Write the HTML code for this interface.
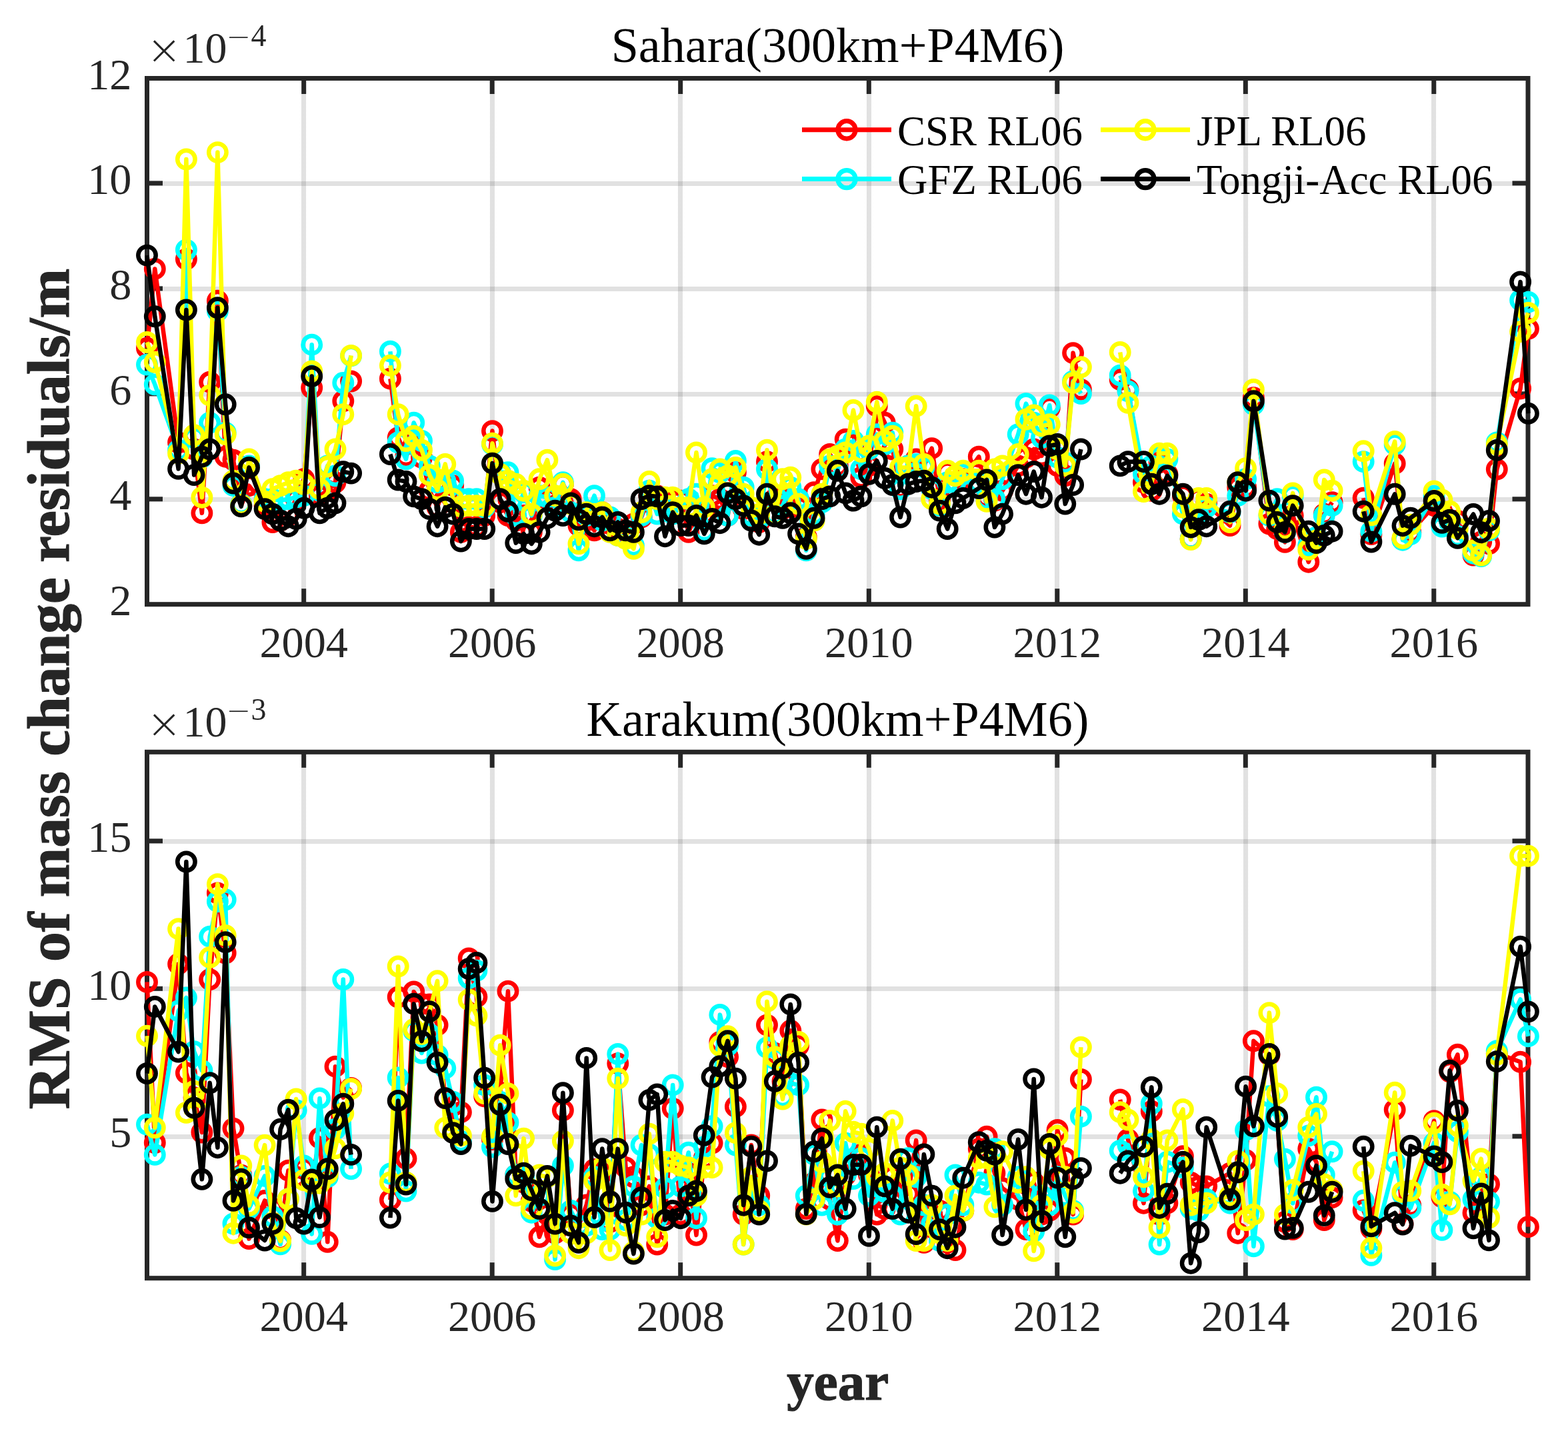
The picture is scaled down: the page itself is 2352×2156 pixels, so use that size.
<!DOCTYPE html>
<html lang="en">
<head>
<meta charset="utf-8">
<title>RMS of mass change residuals</title>
<style>
html,body{margin:0;padding:0;background:#fff;}
body{width:2352px;height:2156px;overflow:hidden;}
svg{display:block;}
text{font-family:"Liberation Serif","DejaVu Serif",serif;fill:#000;}
.tk text{font-size:66.3px;fill:#262626;}
.tk .sup{font-size:46px;}
.tk .sm{font-size:44px;font-family:"DejaVu Sans Light","DejaVu Sans","Liberation Serif",serif;font-weight:200;}
.tk .ex{font-size:66px;}
.tk .tm{font-size:63px;font-family:"DejaVu Sans Light","DejaVu Sans","Liberation Serif",serif;font-weight:200;}
.ti{font-size:74.1px;}
.lg{font-size:62.9px;}
.yl{font-size:89.5px;font-weight:bold;fill:#262626;stroke:#262626;stroke-width:1.2px;}
.xl{font-size:81px;font-weight:bold;fill:#262626;stroke:#262626;stroke-width:1.2px;}
</style>
</head>
<body>
<svg width="2352" height="2156" viewBox="0 0 2352 2156" role="img" aria-label="RMS of mass change residuals for Sahara and Karakum">
<defs>
<pattern id="gd" width="2" height="2" patternUnits="userSpaceOnUse"><rect width="2" height="2" fill="#f4f4f4"/><rect x="0" y="0" width="1" height="1" fill="#cecece"/><rect x="1" y="1" width="1" height="1" fill="#cecece"/></pattern>
<pattern id="gx" width="2" height="2" patternUnits="userSpaceOnUse"><rect width="2" height="2" fill="#e0e0e0"/><rect x="0" y="0" width="1" height="1" fill="#b0b0b0"/><rect x="1" y="1" width="1" height="1" fill="#b0b0b0"/></pattern>
</defs>
<rect x="0" y="0" width="2352" height="2156" fill="#ffffff"/>
<g fill="url(#gd)" shape-rendering="crispEdges">
<rect x="452" y="118" width="7" height="789"/>
<rect x="735" y="118" width="7" height="789"/>
<rect x="1017" y="118" width="7" height="789"/>
<rect x="1300" y="118" width="7" height="789"/>
<rect x="1582" y="118" width="7" height="789"/>
<rect x="1865" y="118" width="7" height="789"/>
<rect x="2147" y="118" width="7" height="789"/>
<rect x="220" y="746" width="2072" height="7"/>
<rect x="220" y="588" width="2072" height="7"/>
<rect x="220" y="430" width="2072" height="7"/>
<rect x="220" y="272" width="2072" height="7"/>
</g>
<g fill="url(#gx)" shape-rendering="crispEdges">
<rect x="452" y="746" width="7" height="7"/>
<rect x="452" y="588" width="7" height="7"/>
<rect x="452" y="430" width="7" height="7"/>
<rect x="452" y="272" width="7" height="7"/>
<rect x="735" y="746" width="7" height="7"/>
<rect x="735" y="588" width="7" height="7"/>
<rect x="735" y="430" width="7" height="7"/>
<rect x="735" y="272" width="7" height="7"/>
<rect x="1017" y="746" width="7" height="7"/>
<rect x="1017" y="588" width="7" height="7"/>
<rect x="1017" y="430" width="7" height="7"/>
<rect x="1017" y="272" width="7" height="7"/>
<rect x="1300" y="746" width="7" height="7"/>
<rect x="1300" y="588" width="7" height="7"/>
<rect x="1300" y="430" width="7" height="7"/>
<rect x="1300" y="272" width="7" height="7"/>
<rect x="1582" y="746" width="7" height="7"/>
<rect x="1582" y="588" width="7" height="7"/>
<rect x="1582" y="430" width="7" height="7"/>
<rect x="1582" y="272" width="7" height="7"/>
<rect x="1865" y="746" width="7" height="7"/>
<rect x="1865" y="588" width="7" height="7"/>
<rect x="1865" y="430" width="7" height="7"/>
<rect x="1865" y="272" width="7" height="7"/>
<rect x="2147" y="746" width="7" height="7"/>
<rect x="2147" y="588" width="7" height="7"/>
<rect x="2147" y="430" width="7" height="7"/>
<rect x="2147" y="272" width="7" height="7"/>
</g>
<g stroke="#262626" stroke-width="7" fill="none" stroke-linecap="butt">
<rect x="220.5" y="117.5" width="2071.5" height="789.2"/>
<line x1="455.7" y1="117.5" x2="455.7" y2="141"/>
<line x1="455.7" y1="906.7" x2="455.7" y2="883.2"/>
<line x1="738.2" y1="117.5" x2="738.2" y2="141"/>
<line x1="738.2" y1="906.7" x2="738.2" y2="883.2"/>
<line x1="1020.7" y1="117.5" x2="1020.7" y2="141"/>
<line x1="1020.7" y1="906.7" x2="1020.7" y2="883.2"/>
<line x1="1303.3" y1="117.5" x2="1303.3" y2="141"/>
<line x1="1303.3" y1="906.7" x2="1303.3" y2="883.2"/>
<line x1="1585.8" y1="117.5" x2="1585.8" y2="141"/>
<line x1="1585.8" y1="906.7" x2="1585.8" y2="883.2"/>
<line x1="1868.3" y1="117.5" x2="1868.3" y2="141"/>
<line x1="1868.3" y1="906.7" x2="1868.3" y2="883.2"/>
<line x1="2150.8" y1="117.5" x2="2150.8" y2="141"/>
<line x1="2150.8" y1="906.7" x2="2150.8" y2="883.2"/>
<line x1="220.5" y1="748.8" x2="244" y2="748.8"/>
<line x1="2292" y1="748.8" x2="2268.5" y2="748.8"/>
<line x1="220.5" y1="590.8" x2="244" y2="590.8"/>
<line x1="2292" y1="590.8" x2="2268.5" y2="590.8"/>
<line x1="220.5" y1="432.9" x2="244" y2="432.9"/>
<line x1="2292" y1="432.9" x2="2268.5" y2="432.9"/>
<line x1="220.5" y1="274.9" x2="244" y2="274.9"/>
<line x1="2292" y1="274.9" x2="2268.5" y2="274.9"/>
</g>
<g class="tk">
<text x="197.5" y="923.2" text-anchor="end">2</text>
<text x="197.5" y="765.3" text-anchor="end">4</text>
<text x="197.5" y="607.3" text-anchor="end">6</text>
<text x="197.5" y="449.4" text-anchor="end">8</text>
<text x="197.5" y="291.4" text-anchor="end">10</text>
<text x="197.5" y="133.5" text-anchor="end">12</text>
<text x="455.7" y="985.7" text-anchor="middle">2004</text>
<text x="738.2" y="985.7" text-anchor="middle">2006</text>
<text x="1020.7" y="985.7" text-anchor="middle">2008</text>
<text x="1303.3" y="985.7" text-anchor="middle">2010</text>
<text x="1585.8" y="985.7" text-anchor="middle">2012</text>
<text x="1868.3" y="985.7" text-anchor="middle">2014</text>
<text x="2150.8" y="985.7" text-anchor="middle">2016</text>
<text class="tm" x="246.2" y="96.3" text-anchor="middle">×</text>
<text class="ex" x="274.5" y="93.8">10</text>
<text class="sm" x="358" y="70.3" text-anchor="middle">−</text>
<text class="sup" x="376.5" y="69.3">4</text>
</g>
<text class="ti" x="1256.5" y="93.4" text-anchor="middle">Sahara(300km+P4M6)</text>
<g stroke="#ff0000" stroke-width="6.5" fill="none" stroke-linejoin="round">
<polyline points="220.5,522.2 232.3,403.4 267.6,664 279.4,388.8 291.1,674 302.9,769.8 314.7,573.2 326.4,451.3 338.2,685.2 350,690.2 361.8,758.6 373.5,728.7 397.1,758.6 408.9,783.5 420.6,781 432.4,773.5 444.2,748.7 455.9,718.8 467.7,581.9 479.5,743.7 491.3,736.2 503,723.8 514.8,601.8 526.6,572"/>
<polyline points="585.4,568.2 597.2,656.6 609,683.9 620.7,666.5 632.5,686.4 644.3,736.2 656.1,761.1 667.8,723.8 679.6,728.7 691.4,798.4 703.2,791 714.9,791 726.7,773.5 738.5,646.6 750.2,753.6 762,773.5 773.8,781 785.6,773.5 797.3,798.4 809.1,731.2 820.9,748.7 832.6,758.6 844.4,726.3 856.2,748.7 868,788.5 879.7,781 891.5,795.9 903.3,768.6 915,786 926.8,793.5 938.6,803.4 950.4,786 962.1,776 973.9,743.7 985.7,743.7 997.5,753.6 1009.2,751.1 1021,751.1 1032.8,798.4 1044.5,771.1 1056.3,771.1 1068.1,743.7 1079.9,748.7 1091.6,773.5 1103.4,708.8 1115.2,763.6 1126.9,773.5 1138.7,783.5 1150.5,692.7 1162.3,748.7 1174,763.6 1185.8,748.7 1197.6,761.1 1209.3,805.9 1221.1,738.7 1232.9,703.9 1244.7,681.5 1256.4,698.9 1268.2,659.1 1280,666.5 1291.8,716.3 1303.5,698.9 1315.3,609.3 1327.1,634.2 1338.8,674 1350.6,731.2 1362.4,698.9 1374.2,688.9 1385.9,698.9 1397.7,672.7 1409.5,748.7 1421.2,708.8 1433,723.8 1444.8,718.8 1468.3,685.2 1480.1,746.2 1491.9,751.1 1503.6,736.2 1527.2,698.9 1539,686.4 1550.7,674 1562.5,683.9 1574.3,611.8 1586.1,698.9 1597.8,713.8 1609.6,529.6 1621.4,584.4"/>
<polyline points="1680.2,569.5 1692,584.4 1715.5,723.8 1727.3,736.2 1739.1,693.9 1750.9,711.3 1774.4,743.7 1786.2,808.4 1797.9,748.7 1809.7,756.1 1845,788.5 1856.8,731.2 1868.6,731.2 1880.4,596.8 1903.9,786 1915.7,793.5 1927.4,813.4 1939.2,773.5 1962.8,843.2 1974.5,810.9 1986.3,771.1 1998.1,753.6"/>
<polyline points="2045.2,747.1 2056.9,801.6 2092.2,695.5 2104,808.7 2115.8,798.7 2151.1,758.5 2162.9,767.2 2174.7,781.5 2186.4,781.5 2210,833.1 2221.7,813 2233.5,815.9 2245.3,704.1 2280.6,583 2292.4,493.3"/>
<circle cx="220.5" cy="522.2" r="13.2"/>
<circle cx="232.3" cy="403.4" r="13.2"/>
<circle cx="267.6" cy="664" r="13.2"/>
<circle cx="279.4" cy="388.8" r="13.2"/>
<circle cx="291.1" cy="674" r="13.2"/>
<circle cx="302.9" cy="769.8" r="13.2"/>
<circle cx="314.7" cy="573.2" r="13.2"/>
<circle cx="326.4" cy="451.3" r="13.2"/>
<circle cx="338.2" cy="685.2" r="13.2"/>
<circle cx="350" cy="690.2" r="13.2"/>
<circle cx="361.8" cy="758.6" r="13.2"/>
<circle cx="373.5" cy="728.7" r="13.2"/>
<circle cx="397.1" cy="758.6" r="13.2"/>
<circle cx="408.9" cy="783.5" r="13.2"/>
<circle cx="420.6" cy="781" r="13.2"/>
<circle cx="432.4" cy="773.5" r="13.2"/>
<circle cx="444.2" cy="748.7" r="13.2"/>
<circle cx="455.9" cy="718.8" r="13.2"/>
<circle cx="467.7" cy="581.9" r="13.2"/>
<circle cx="479.5" cy="743.7" r="13.2"/>
<circle cx="491.3" cy="736.2" r="13.2"/>
<circle cx="503" cy="723.8" r="13.2"/>
<circle cx="514.8" cy="601.8" r="13.2"/>
<circle cx="526.6" cy="572" r="13.2"/>
<circle cx="585.4" cy="568.2" r="13.2"/>
<circle cx="597.2" cy="656.6" r="13.2"/>
<circle cx="609" cy="683.9" r="13.2"/>
<circle cx="620.7" cy="666.5" r="13.2"/>
<circle cx="632.5" cy="686.4" r="13.2"/>
<circle cx="644.3" cy="736.2" r="13.2"/>
<circle cx="656.1" cy="761.1" r="13.2"/>
<circle cx="667.8" cy="723.8" r="13.2"/>
<circle cx="679.6" cy="728.7" r="13.2"/>
<circle cx="691.4" cy="798.4" r="13.2"/>
<circle cx="703.2" cy="791" r="13.2"/>
<circle cx="714.9" cy="791" r="13.2"/>
<circle cx="726.7" cy="773.5" r="13.2"/>
<circle cx="738.5" cy="646.6" r="13.2"/>
<circle cx="750.2" cy="753.6" r="13.2"/>
<circle cx="762" cy="773.5" r="13.2"/>
<circle cx="773.8" cy="781" r="13.2"/>
<circle cx="785.6" cy="773.5" r="13.2"/>
<circle cx="797.3" cy="798.4" r="13.2"/>
<circle cx="809.1" cy="731.2" r="13.2"/>
<circle cx="820.9" cy="748.7" r="13.2"/>
<circle cx="832.6" cy="758.6" r="13.2"/>
<circle cx="844.4" cy="726.3" r="13.2"/>
<circle cx="856.2" cy="748.7" r="13.2"/>
<circle cx="868" cy="788.5" r="13.2"/>
<circle cx="879.7" cy="781" r="13.2"/>
<circle cx="891.5" cy="795.9" r="13.2"/>
<circle cx="903.3" cy="768.6" r="13.2"/>
<circle cx="915" cy="786" r="13.2"/>
<circle cx="926.8" cy="793.5" r="13.2"/>
<circle cx="938.6" cy="803.4" r="13.2"/>
<circle cx="950.4" cy="786" r="13.2"/>
<circle cx="962.1" cy="776" r="13.2"/>
<circle cx="973.9" cy="743.7" r="13.2"/>
<circle cx="985.7" cy="743.7" r="13.2"/>
<circle cx="997.5" cy="753.6" r="13.2"/>
<circle cx="1009.2" cy="751.1" r="13.2"/>
<circle cx="1021" cy="751.1" r="13.2"/>
<circle cx="1032.8" cy="798.4" r="13.2"/>
<circle cx="1044.5" cy="771.1" r="13.2"/>
<circle cx="1056.3" cy="771.1" r="13.2"/>
<circle cx="1068.1" cy="743.7" r="13.2"/>
<circle cx="1079.9" cy="748.7" r="13.2"/>
<circle cx="1091.6" cy="773.5" r="13.2"/>
<circle cx="1103.4" cy="708.8" r="13.2"/>
<circle cx="1115.2" cy="763.6" r="13.2"/>
<circle cx="1126.9" cy="773.5" r="13.2"/>
<circle cx="1138.7" cy="783.5" r="13.2"/>
<circle cx="1150.5" cy="692.7" r="13.2"/>
<circle cx="1162.3" cy="748.7" r="13.2"/>
<circle cx="1174" cy="763.6" r="13.2"/>
<circle cx="1185.8" cy="748.7" r="13.2"/>
<circle cx="1197.6" cy="761.1" r="13.2"/>
<circle cx="1209.3" cy="805.9" r="13.2"/>
<circle cx="1221.1" cy="738.7" r="13.2"/>
<circle cx="1232.9" cy="703.9" r="13.2"/>
<circle cx="1244.7" cy="681.5" r="13.2"/>
<circle cx="1256.4" cy="698.9" r="13.2"/>
<circle cx="1268.2" cy="659.1" r="13.2"/>
<circle cx="1280" cy="666.5" r="13.2"/>
<circle cx="1291.8" cy="716.3" r="13.2"/>
<circle cx="1303.5" cy="698.9" r="13.2"/>
<circle cx="1315.3" cy="609.3" r="13.2"/>
<circle cx="1327.1" cy="634.2" r="13.2"/>
<circle cx="1338.8" cy="674" r="13.2"/>
<circle cx="1350.6" cy="731.2" r="13.2"/>
<circle cx="1362.4" cy="698.9" r="13.2"/>
<circle cx="1374.2" cy="688.9" r="13.2"/>
<circle cx="1385.9" cy="698.9" r="13.2"/>
<circle cx="1397.7" cy="672.7" r="13.2"/>
<circle cx="1409.5" cy="748.7" r="13.2"/>
<circle cx="1421.2" cy="708.8" r="13.2"/>
<circle cx="1433" cy="723.8" r="13.2"/>
<circle cx="1444.8" cy="718.8" r="13.2"/>
<circle cx="1468.3" cy="685.2" r="13.2"/>
<circle cx="1480.1" cy="746.2" r="13.2"/>
<circle cx="1491.9" cy="751.1" r="13.2"/>
<circle cx="1503.6" cy="736.2" r="13.2"/>
<circle cx="1527.2" cy="698.9" r="13.2"/>
<circle cx="1539" cy="686.4" r="13.2"/>
<circle cx="1550.7" cy="674" r="13.2"/>
<circle cx="1562.5" cy="683.9" r="13.2"/>
<circle cx="1574.3" cy="611.8" r="13.2"/>
<circle cx="1586.1" cy="698.9" r="13.2"/>
<circle cx="1597.8" cy="713.8" r="13.2"/>
<circle cx="1609.6" cy="529.6" r="13.2"/>
<circle cx="1621.4" cy="584.4" r="13.2"/>
<circle cx="1680.2" cy="569.5" r="13.2"/>
<circle cx="1692" cy="584.4" r="13.2"/>
<circle cx="1715.5" cy="723.8" r="13.2"/>
<circle cx="1727.3" cy="736.2" r="13.2"/>
<circle cx="1739.1" cy="693.9" r="13.2"/>
<circle cx="1750.9" cy="711.3" r="13.2"/>
<circle cx="1774.4" cy="743.7" r="13.2"/>
<circle cx="1786.2" cy="808.4" r="13.2"/>
<circle cx="1797.9" cy="748.7" r="13.2"/>
<circle cx="1809.7" cy="756.1" r="13.2"/>
<circle cx="1845" cy="788.5" r="13.2"/>
<circle cx="1856.8" cy="731.2" r="13.2"/>
<circle cx="1868.6" cy="731.2" r="13.2"/>
<circle cx="1880.4" cy="596.8" r="13.2"/>
<circle cx="1903.9" cy="786" r="13.2"/>
<circle cx="1915.7" cy="793.5" r="13.2"/>
<circle cx="1927.4" cy="813.4" r="13.2"/>
<circle cx="1939.2" cy="773.5" r="13.2"/>
<circle cx="1962.8" cy="843.2" r="13.2"/>
<circle cx="1974.5" cy="810.9" r="13.2"/>
<circle cx="1986.3" cy="771.1" r="13.2"/>
<circle cx="1998.1" cy="753.6" r="13.2"/>
<circle cx="2045.2" cy="747.1" r="13.2"/>
<circle cx="2056.9" cy="801.6" r="13.2"/>
<circle cx="2092.2" cy="695.5" r="13.2"/>
<circle cx="2104" cy="808.7" r="13.2"/>
<circle cx="2115.8" cy="798.7" r="13.2"/>
<circle cx="2151.1" cy="758.5" r="13.2"/>
<circle cx="2162.9" cy="767.2" r="13.2"/>
<circle cx="2174.7" cy="781.5" r="13.2"/>
<circle cx="2186.4" cy="781.5" r="13.2"/>
<circle cx="2210" cy="833.1" r="13.2"/>
<circle cx="2221.7" cy="813" r="13.2"/>
<circle cx="2233.5" cy="815.9" r="13.2"/>
<circle cx="2245.3" cy="704.1" r="13.2"/>
<circle cx="2280.6" cy="583" r="13.2"/>
<circle cx="2292.4" cy="493.3" r="13.2"/>
</g>
<g stroke="#00ffff" stroke-width="6.5" fill="none" stroke-linejoin="round">
<polyline points="220.5,547.1 232.3,576.9 267.6,675.2 279.4,375 291.1,656.6 302.9,686.4 314.7,634.2 326.4,466.7 338.2,649.1 350,728.7 361.8,756.1 373.5,698.9 397.1,748.7 408.9,748.7 420.6,751.1 432.4,748.7 444.2,746.2 455.9,743.7 467.7,517.2 479.5,736.2 491.3,698.9 503,713.8 514.8,574.4 526.6,533.9"/>
<polyline points="585.4,527.2 597.2,664 609,688.9 620.7,634.2 632.5,661.5 644.3,698.9 656.1,723.8 667.8,721.3 679.6,721.3 691.4,748.7 703.2,748.7 714.9,748.7 726.7,761.1 738.5,666.5 750.2,708.8 762,708.8 773.8,773.5 785.6,738.7 797.3,773.5 809.1,743.7 820.9,746.2 832.6,761.1 844.4,723.8 856.2,768.6 868,825.8 879.7,773.5 891.5,743.7 903.3,781 915,776 926.8,803.4 938.6,805.9 950.4,818.3 962.1,773.5 973.9,736.2 985.7,771.1 997.5,761.1 1009.2,771.1 1021,761.1 1032.8,748.7 1044.5,741.2 1056.3,795.9 1068.1,702.6 1079.9,708.8 1091.6,773.5 1103.4,691.4 1115.2,731.2 1126.9,773.5 1138.7,778.5 1150.5,703.9 1162.3,771.1 1174,758.6 1185.8,731.2 1197.6,748.7 1209.3,825.8 1221.1,771.1 1232.9,753.6 1244.7,698.9 1256.4,703.9 1268.2,674 1280,661.5 1291.8,703.9 1303.5,674 1315.3,651.6 1327.1,666.5 1338.8,649.1 1350.6,733.7 1362.4,698.9 1374.2,696.4 1385.9,701.4 1397.7,733.7 1409.5,758.6 1421.2,723.8 1433,723.8 1444.8,711.3 1468.3,723.8 1480.1,748.7 1491.9,748.7 1503.6,718.8 1527.2,651.6 1539,605.6 1550.7,634.2 1562.5,656.6 1574.3,608 1586.1,686.4 1597.8,693.9 1609.6,572 1621.4,590.6"/>
<polyline points="1680.2,563.2 1692,586.9 1715.5,711.3 1727.3,698.9 1739.1,686.4 1750.9,688.9 1774.4,771.1 1786.2,808.4 1797.9,773.5 1809.7,761.1 1845,768.6 1856.8,743.7 1868.6,718.8 1880.4,606.8 1903.9,773.5 1915.7,748.7 1927.4,798.4 1939.2,743.7 1962.8,818.3 1974.5,805.9 1986.3,773.5 1998.1,758.6"/>
<polyline points="2045.2,692.6 2056.9,797.3 2092.2,666.8 2104,810.2 2115.8,801.6 2151.1,744.2 2162.9,790.1 2174.7,781.5 2186.4,804.4 2210,830.2 2221.7,834.5 2233.5,795.8 2245.3,663.9 2280.6,450.3 2292.4,453.1"/>
<circle cx="220.5" cy="547.1" r="13.2"/>
<circle cx="232.3" cy="576.9" r="13.2"/>
<circle cx="267.6" cy="675.2" r="13.2"/>
<circle cx="279.4" cy="375" r="13.2"/>
<circle cx="291.1" cy="656.6" r="13.2"/>
<circle cx="302.9" cy="686.4" r="13.2"/>
<circle cx="314.7" cy="634.2" r="13.2"/>
<circle cx="326.4" cy="466.7" r="13.2"/>
<circle cx="338.2" cy="649.1" r="13.2"/>
<circle cx="350" cy="728.7" r="13.2"/>
<circle cx="361.8" cy="756.1" r="13.2"/>
<circle cx="373.5" cy="698.9" r="13.2"/>
<circle cx="397.1" cy="748.7" r="13.2"/>
<circle cx="408.9" cy="748.7" r="13.2"/>
<circle cx="420.6" cy="751.1" r="13.2"/>
<circle cx="432.4" cy="748.7" r="13.2"/>
<circle cx="444.2" cy="746.2" r="13.2"/>
<circle cx="455.9" cy="743.7" r="13.2"/>
<circle cx="467.7" cy="517.2" r="13.2"/>
<circle cx="479.5" cy="736.2" r="13.2"/>
<circle cx="491.3" cy="698.9" r="13.2"/>
<circle cx="503" cy="713.8" r="13.2"/>
<circle cx="514.8" cy="574.4" r="13.2"/>
<circle cx="526.6" cy="533.9" r="13.2"/>
<circle cx="585.4" cy="527.2" r="13.2"/>
<circle cx="597.2" cy="664" r="13.2"/>
<circle cx="609" cy="688.9" r="13.2"/>
<circle cx="620.7" cy="634.2" r="13.2"/>
<circle cx="632.5" cy="661.5" r="13.2"/>
<circle cx="644.3" cy="698.9" r="13.2"/>
<circle cx="656.1" cy="723.8" r="13.2"/>
<circle cx="667.8" cy="721.3" r="13.2"/>
<circle cx="679.6" cy="721.3" r="13.2"/>
<circle cx="691.4" cy="748.7" r="13.2"/>
<circle cx="703.2" cy="748.7" r="13.2"/>
<circle cx="714.9" cy="748.7" r="13.2"/>
<circle cx="726.7" cy="761.1" r="13.2"/>
<circle cx="738.5" cy="666.5" r="13.2"/>
<circle cx="750.2" cy="708.8" r="13.2"/>
<circle cx="762" cy="708.8" r="13.2"/>
<circle cx="773.8" cy="773.5" r="13.2"/>
<circle cx="785.6" cy="738.7" r="13.2"/>
<circle cx="797.3" cy="773.5" r="13.2"/>
<circle cx="809.1" cy="743.7" r="13.2"/>
<circle cx="820.9" cy="746.2" r="13.2"/>
<circle cx="832.6" cy="761.1" r="13.2"/>
<circle cx="844.4" cy="723.8" r="13.2"/>
<circle cx="856.2" cy="768.6" r="13.2"/>
<circle cx="868" cy="825.8" r="13.2"/>
<circle cx="879.7" cy="773.5" r="13.2"/>
<circle cx="891.5" cy="743.7" r="13.2"/>
<circle cx="903.3" cy="781" r="13.2"/>
<circle cx="915" cy="776" r="13.2"/>
<circle cx="926.8" cy="803.4" r="13.2"/>
<circle cx="938.6" cy="805.9" r="13.2"/>
<circle cx="950.4" cy="818.3" r="13.2"/>
<circle cx="962.1" cy="773.5" r="13.2"/>
<circle cx="973.9" cy="736.2" r="13.2"/>
<circle cx="985.7" cy="771.1" r="13.2"/>
<circle cx="997.5" cy="761.1" r="13.2"/>
<circle cx="1009.2" cy="771.1" r="13.2"/>
<circle cx="1021" cy="761.1" r="13.2"/>
<circle cx="1032.8" cy="748.7" r="13.2"/>
<circle cx="1044.5" cy="741.2" r="13.2"/>
<circle cx="1056.3" cy="795.9" r="13.2"/>
<circle cx="1068.1" cy="702.6" r="13.2"/>
<circle cx="1079.9" cy="708.8" r="13.2"/>
<circle cx="1091.6" cy="773.5" r="13.2"/>
<circle cx="1103.4" cy="691.4" r="13.2"/>
<circle cx="1115.2" cy="731.2" r="13.2"/>
<circle cx="1126.9" cy="773.5" r="13.2"/>
<circle cx="1138.7" cy="778.5" r="13.2"/>
<circle cx="1150.5" cy="703.9" r="13.2"/>
<circle cx="1162.3" cy="771.1" r="13.2"/>
<circle cx="1174" cy="758.6" r="13.2"/>
<circle cx="1185.8" cy="731.2" r="13.2"/>
<circle cx="1197.6" cy="748.7" r="13.2"/>
<circle cx="1209.3" cy="825.8" r="13.2"/>
<circle cx="1221.1" cy="771.1" r="13.2"/>
<circle cx="1232.9" cy="753.6" r="13.2"/>
<circle cx="1244.7" cy="698.9" r="13.2"/>
<circle cx="1256.4" cy="703.9" r="13.2"/>
<circle cx="1268.2" cy="674" r="13.2"/>
<circle cx="1280" cy="661.5" r="13.2"/>
<circle cx="1291.8" cy="703.9" r="13.2"/>
<circle cx="1303.5" cy="674" r="13.2"/>
<circle cx="1315.3" cy="651.6" r="13.2"/>
<circle cx="1327.1" cy="666.5" r="13.2"/>
<circle cx="1338.8" cy="649.1" r="13.2"/>
<circle cx="1350.6" cy="733.7" r="13.2"/>
<circle cx="1362.4" cy="698.9" r="13.2"/>
<circle cx="1374.2" cy="696.4" r="13.2"/>
<circle cx="1385.9" cy="701.4" r="13.2"/>
<circle cx="1397.7" cy="733.7" r="13.2"/>
<circle cx="1409.5" cy="758.6" r="13.2"/>
<circle cx="1421.2" cy="723.8" r="13.2"/>
<circle cx="1433" cy="723.8" r="13.2"/>
<circle cx="1444.8" cy="711.3" r="13.2"/>
<circle cx="1468.3" cy="723.8" r="13.2"/>
<circle cx="1480.1" cy="748.7" r="13.2"/>
<circle cx="1491.9" cy="748.7" r="13.2"/>
<circle cx="1503.6" cy="718.8" r="13.2"/>
<circle cx="1527.2" cy="651.6" r="13.2"/>
<circle cx="1539" cy="605.6" r="13.2"/>
<circle cx="1550.7" cy="634.2" r="13.2"/>
<circle cx="1562.5" cy="656.6" r="13.2"/>
<circle cx="1574.3" cy="608" r="13.2"/>
<circle cx="1586.1" cy="686.4" r="13.2"/>
<circle cx="1597.8" cy="693.9" r="13.2"/>
<circle cx="1609.6" cy="572" r="13.2"/>
<circle cx="1621.4" cy="590.6" r="13.2"/>
<circle cx="1680.2" cy="563.2" r="13.2"/>
<circle cx="1692" cy="586.9" r="13.2"/>
<circle cx="1715.5" cy="711.3" r="13.2"/>
<circle cx="1727.3" cy="698.9" r="13.2"/>
<circle cx="1739.1" cy="686.4" r="13.2"/>
<circle cx="1750.9" cy="688.9" r="13.2"/>
<circle cx="1774.4" cy="771.1" r="13.2"/>
<circle cx="1786.2" cy="808.4" r="13.2"/>
<circle cx="1797.9" cy="773.5" r="13.2"/>
<circle cx="1809.7" cy="761.1" r="13.2"/>
<circle cx="1845" cy="768.6" r="13.2"/>
<circle cx="1856.8" cy="743.7" r="13.2"/>
<circle cx="1868.6" cy="718.8" r="13.2"/>
<circle cx="1880.4" cy="606.8" r="13.2"/>
<circle cx="1903.9" cy="773.5" r="13.2"/>
<circle cx="1915.7" cy="748.7" r="13.2"/>
<circle cx="1927.4" cy="798.4" r="13.2"/>
<circle cx="1939.2" cy="743.7" r="13.2"/>
<circle cx="1962.8" cy="818.3" r="13.2"/>
<circle cx="1974.5" cy="805.9" r="13.2"/>
<circle cx="1986.3" cy="773.5" r="13.2"/>
<circle cx="1998.1" cy="758.6" r="13.2"/>
<circle cx="2045.2" cy="692.6" r="13.2"/>
<circle cx="2056.9" cy="797.3" r="13.2"/>
<circle cx="2092.2" cy="666.8" r="13.2"/>
<circle cx="2104" cy="810.2" r="13.2"/>
<circle cx="2115.8" cy="801.6" r="13.2"/>
<circle cx="2151.1" cy="744.2" r="13.2"/>
<circle cx="2162.9" cy="790.1" r="13.2"/>
<circle cx="2174.7" cy="781.5" r="13.2"/>
<circle cx="2186.4" cy="804.4" r="13.2"/>
<circle cx="2210" cy="830.2" r="13.2"/>
<circle cx="2221.7" cy="834.5" r="13.2"/>
<circle cx="2233.5" cy="795.8" r="13.2"/>
<circle cx="2245.3" cy="663.9" r="13.2"/>
<circle cx="2280.6" cy="450.3" r="13.2"/>
<circle cx="2292.4" cy="453.1" r="13.2"/>
</g>
<g stroke="#ffff00" stroke-width="6.5" fill="none" stroke-linejoin="round">
<polyline points="220.5,513.5 232.3,543.3 267.6,680.2 279.4,239 291.1,652.8 302.9,746.2 314.7,593.1 326.4,228.6 338.2,651.6 350,721.3 361.8,757.4 373.5,688.9 397.1,752.4 408.9,733.7 420.6,728.7 432.4,723.8 444.2,721.3 455.9,726.3 467.7,557 479.5,733.7 491.3,700.1 503,674 514.8,621.7 526.6,533.4"/>
<polyline points="585.4,548.3 597.2,621.7 609,661.5 620.7,654.1 632.5,675.2 644.3,712.6 656.1,735 667.8,696.4 679.6,748.7 691.4,759.9 703.2,758.6 714.9,758.6 726.7,758.6 738.5,665.3 750.2,711.3 762,721.3 773.8,726.3 785.6,736.2 797.3,771.1 809.1,718.8 820.9,690.2 832.6,743.7 844.4,726.3 856.2,756.1 868,815.9 879.7,768.6 891.5,771.1 903.3,768.6 915,798.4 926.8,803.4 938.6,808.4 950.4,823.3 962.1,768.6 973.9,722.5 985.7,748.7 997.5,746.2 1009.2,746.2 1021,761.1 1032.8,761.1 1044.5,679 1056.3,761.1 1068.1,718.8 1079.9,703.9 1091.6,713.8 1103.4,701.4 1115.2,741.2 1126.9,761.1 1138.7,771.1 1150.5,675.2 1162.3,773.5 1174,718.8 1185.8,716.3 1197.6,756.1 1209.3,808.4 1221.1,781 1232.9,741.2 1244.7,688.9 1256.4,683.9 1268.2,679 1280,615.5 1291.8,677.7 1303.5,669 1315.3,603.1 1327.1,661.5 1338.8,654.1 1350.6,701.4 1362.4,701.4 1374.2,609.3 1385.9,696.4 1397.7,748.7 1409.5,756.1 1421.2,706.3 1433,713.8 1444.8,706.3 1468.3,706.3 1480.1,752.4 1491.9,703.9 1503.6,698.9 1527.2,681.5 1539,629.2 1550.7,623 1562.5,639.1 1574.3,636.7 1586.1,674 1597.8,698.9 1609.6,574.4 1621.4,550.8"/>
<polyline points="1680.2,528.4 1692,604.3 1715.5,737.5 1727.3,723.8 1739.1,680.2 1750.9,680.2 1774.4,761.1 1786.2,809.6 1797.9,747.4 1809.7,747.4 1845,783.5 1856.8,723.8 1868.6,702.6 1880.4,584.4 1903.9,771.1 1915.7,783.5 1927.4,793.5 1939.2,739.9 1962.8,824.6 1974.5,810.9 1986.3,720 1998.1,736.2"/>
<polyline points="2045.2,676.8 2056.9,772.9 2092.2,662.5 2104,807.3 2115.8,787.2 2151.1,737 2162.9,749.9 2174.7,767.2 2186.4,793 2210,825.9 2221.7,833.1 2233.5,793 2245.3,666.8 2280.6,497.6 2292.4,469.5"/>
<circle cx="220.5" cy="513.5" r="13.2"/>
<circle cx="232.3" cy="543.3" r="13.2"/>
<circle cx="267.6" cy="680.2" r="13.2"/>
<circle cx="279.4" cy="239" r="13.2"/>
<circle cx="291.1" cy="652.8" r="13.2"/>
<circle cx="302.9" cy="746.2" r="13.2"/>
<circle cx="314.7" cy="593.1" r="13.2"/>
<circle cx="326.4" cy="228.6" r="13.2"/>
<circle cx="338.2" cy="651.6" r="13.2"/>
<circle cx="350" cy="721.3" r="13.2"/>
<circle cx="361.8" cy="757.4" r="13.2"/>
<circle cx="373.5" cy="688.9" r="13.2"/>
<circle cx="397.1" cy="752.4" r="13.2"/>
<circle cx="408.9" cy="733.7" r="13.2"/>
<circle cx="420.6" cy="728.7" r="13.2"/>
<circle cx="432.4" cy="723.8" r="13.2"/>
<circle cx="444.2" cy="721.3" r="13.2"/>
<circle cx="455.9" cy="726.3" r="13.2"/>
<circle cx="467.7" cy="557" r="13.2"/>
<circle cx="479.5" cy="733.7" r="13.2"/>
<circle cx="491.3" cy="700.1" r="13.2"/>
<circle cx="503" cy="674" r="13.2"/>
<circle cx="514.8" cy="621.7" r="13.2"/>
<circle cx="526.6" cy="533.4" r="13.2"/>
<circle cx="585.4" cy="548.3" r="13.2"/>
<circle cx="597.2" cy="621.7" r="13.2"/>
<circle cx="609" cy="661.5" r="13.2"/>
<circle cx="620.7" cy="654.1" r="13.2"/>
<circle cx="632.5" cy="675.2" r="13.2"/>
<circle cx="644.3" cy="712.6" r="13.2"/>
<circle cx="656.1" cy="735" r="13.2"/>
<circle cx="667.8" cy="696.4" r="13.2"/>
<circle cx="679.6" cy="748.7" r="13.2"/>
<circle cx="691.4" cy="759.9" r="13.2"/>
<circle cx="703.2" cy="758.6" r="13.2"/>
<circle cx="714.9" cy="758.6" r="13.2"/>
<circle cx="726.7" cy="758.6" r="13.2"/>
<circle cx="738.5" cy="665.3" r="13.2"/>
<circle cx="750.2" cy="711.3" r="13.2"/>
<circle cx="762" cy="721.3" r="13.2"/>
<circle cx="773.8" cy="726.3" r="13.2"/>
<circle cx="785.6" cy="736.2" r="13.2"/>
<circle cx="797.3" cy="771.1" r="13.2"/>
<circle cx="809.1" cy="718.8" r="13.2"/>
<circle cx="820.9" cy="690.2" r="13.2"/>
<circle cx="832.6" cy="743.7" r="13.2"/>
<circle cx="844.4" cy="726.3" r="13.2"/>
<circle cx="856.2" cy="756.1" r="13.2"/>
<circle cx="868" cy="815.9" r="13.2"/>
<circle cx="879.7" cy="768.6" r="13.2"/>
<circle cx="891.5" cy="771.1" r="13.2"/>
<circle cx="903.3" cy="768.6" r="13.2"/>
<circle cx="915" cy="798.4" r="13.2"/>
<circle cx="926.8" cy="803.4" r="13.2"/>
<circle cx="938.6" cy="808.4" r="13.2"/>
<circle cx="950.4" cy="823.3" r="13.2"/>
<circle cx="962.1" cy="768.6" r="13.2"/>
<circle cx="973.9" cy="722.5" r="13.2"/>
<circle cx="985.7" cy="748.7" r="13.2"/>
<circle cx="997.5" cy="746.2" r="13.2"/>
<circle cx="1009.2" cy="746.2" r="13.2"/>
<circle cx="1021" cy="761.1" r="13.2"/>
<circle cx="1032.8" cy="761.1" r="13.2"/>
<circle cx="1044.5" cy="679" r="13.2"/>
<circle cx="1056.3" cy="761.1" r="13.2"/>
<circle cx="1068.1" cy="718.8" r="13.2"/>
<circle cx="1079.9" cy="703.9" r="13.2"/>
<circle cx="1091.6" cy="713.8" r="13.2"/>
<circle cx="1103.4" cy="701.4" r="13.2"/>
<circle cx="1115.2" cy="741.2" r="13.2"/>
<circle cx="1126.9" cy="761.1" r="13.2"/>
<circle cx="1138.7" cy="771.1" r="13.2"/>
<circle cx="1150.5" cy="675.2" r="13.2"/>
<circle cx="1162.3" cy="773.5" r="13.2"/>
<circle cx="1174" cy="718.8" r="13.2"/>
<circle cx="1185.8" cy="716.3" r="13.2"/>
<circle cx="1197.6" cy="756.1" r="13.2"/>
<circle cx="1209.3" cy="808.4" r="13.2"/>
<circle cx="1221.1" cy="781" r="13.2"/>
<circle cx="1232.9" cy="741.2" r="13.2"/>
<circle cx="1244.7" cy="688.9" r="13.2"/>
<circle cx="1256.4" cy="683.9" r="13.2"/>
<circle cx="1268.2" cy="679" r="13.2"/>
<circle cx="1280" cy="615.5" r="13.2"/>
<circle cx="1291.8" cy="677.7" r="13.2"/>
<circle cx="1303.5" cy="669" r="13.2"/>
<circle cx="1315.3" cy="603.1" r="13.2"/>
<circle cx="1327.1" cy="661.5" r="13.2"/>
<circle cx="1338.8" cy="654.1" r="13.2"/>
<circle cx="1350.6" cy="701.4" r="13.2"/>
<circle cx="1362.4" cy="701.4" r="13.2"/>
<circle cx="1374.2" cy="609.3" r="13.2"/>
<circle cx="1385.9" cy="696.4" r="13.2"/>
<circle cx="1397.7" cy="748.7" r="13.2"/>
<circle cx="1409.5" cy="756.1" r="13.2"/>
<circle cx="1421.2" cy="706.3" r="13.2"/>
<circle cx="1433" cy="713.8" r="13.2"/>
<circle cx="1444.8" cy="706.3" r="13.2"/>
<circle cx="1468.3" cy="706.3" r="13.2"/>
<circle cx="1480.1" cy="752.4" r="13.2"/>
<circle cx="1491.9" cy="703.9" r="13.2"/>
<circle cx="1503.6" cy="698.9" r="13.2"/>
<circle cx="1527.2" cy="681.5" r="13.2"/>
<circle cx="1539" cy="629.2" r="13.2"/>
<circle cx="1550.7" cy="623" r="13.2"/>
<circle cx="1562.5" cy="639.1" r="13.2"/>
<circle cx="1574.3" cy="636.7" r="13.2"/>
<circle cx="1586.1" cy="674" r="13.2"/>
<circle cx="1597.8" cy="698.9" r="13.2"/>
<circle cx="1609.6" cy="574.4" r="13.2"/>
<circle cx="1621.4" cy="550.8" r="13.2"/>
<circle cx="1680.2" cy="528.4" r="13.2"/>
<circle cx="1692" cy="604.3" r="13.2"/>
<circle cx="1715.5" cy="737.5" r="13.2"/>
<circle cx="1727.3" cy="723.8" r="13.2"/>
<circle cx="1739.1" cy="680.2" r="13.2"/>
<circle cx="1750.9" cy="680.2" r="13.2"/>
<circle cx="1774.4" cy="761.1" r="13.2"/>
<circle cx="1786.2" cy="809.6" r="13.2"/>
<circle cx="1797.9" cy="747.4" r="13.2"/>
<circle cx="1809.7" cy="747.4" r="13.2"/>
<circle cx="1845" cy="783.5" r="13.2"/>
<circle cx="1856.8" cy="723.8" r="13.2"/>
<circle cx="1868.6" cy="702.6" r="13.2"/>
<circle cx="1880.4" cy="584.4" r="13.2"/>
<circle cx="1903.9" cy="771.1" r="13.2"/>
<circle cx="1915.7" cy="783.5" r="13.2"/>
<circle cx="1927.4" cy="793.5" r="13.2"/>
<circle cx="1939.2" cy="739.9" r="13.2"/>
<circle cx="1962.8" cy="824.6" r="13.2"/>
<circle cx="1974.5" cy="810.9" r="13.2"/>
<circle cx="1986.3" cy="720" r="13.2"/>
<circle cx="1998.1" cy="736.2" r="13.2"/>
<circle cx="2045.2" cy="676.8" r="13.2"/>
<circle cx="2056.9" cy="772.9" r="13.2"/>
<circle cx="2092.2" cy="662.5" r="13.2"/>
<circle cx="2104" cy="807.3" r="13.2"/>
<circle cx="2115.8" cy="787.2" r="13.2"/>
<circle cx="2151.1" cy="737" r="13.2"/>
<circle cx="2162.9" cy="749.9" r="13.2"/>
<circle cx="2174.7" cy="767.2" r="13.2"/>
<circle cx="2186.4" cy="793" r="13.2"/>
<circle cx="2210" cy="825.9" r="13.2"/>
<circle cx="2221.7" cy="833.1" r="13.2"/>
<circle cx="2233.5" cy="793" r="13.2"/>
<circle cx="2245.3" cy="666.8" r="13.2"/>
<circle cx="2280.6" cy="497.6" r="13.2"/>
<circle cx="2292.4" cy="469.5" r="13.2"/>
</g>
<g stroke="#000000" stroke-width="6.5" fill="none" stroke-linejoin="round">
<polyline points="220.5,383.1 232.3,474.8 267.6,703.4 279.4,465 291.1,712.6 302.9,685.2 314.7,674 326.4,461.8 338.2,606.8 350,725 361.8,759.9 373.5,701.4 397.1,763.6 408.9,771.1 420.6,781 432.4,789.7 444.2,778.5 455.9,762.3 467.7,564.5 479.5,769.8 491.3,762.3 503,754.9 514.8,707.6 526.6,710.1"/>
<polyline points="585.4,681.5 597.2,720 609,722.5 620.7,744.9 632.5,748.7 644.3,763.6 656.1,789.7 667.8,761.1 679.6,771.1 691.4,812.1 703.2,793.5 714.9,793.5 726.7,793.5 738.5,695.1 750.2,748.7 762,767.3 773.8,814.6 785.6,800.9 797.3,815.9 809.1,798.4 820.9,777.3 832.6,766.1 844.4,773.5 856.2,754.9 868,779.8 879.7,771.1 891.5,789.7 903.3,776 915,795.9 926.8,783.5 938.6,795.9 950.4,798.4 962.1,748.7 973.9,743.7 985.7,744.9 997.5,804.7 1009.2,768.6 1021,788.5 1032.8,788.5 1044.5,773.5 1056.3,800.9 1068.1,778.5 1079.9,784.7 1091.6,739.9 1103.4,748.7 1115.2,758.6 1126.9,781 1138.7,802.2 1150.5,741.2 1162.3,774.8 1174,777.3 1185.8,769.8 1197.6,800.9 1209.3,823.3 1221.1,777.3 1232.9,748.7 1244.7,744.9 1256.4,706.3 1268.2,739.9 1280,751.1 1291.8,744.9 1303.5,711.3 1315.3,691.4 1327.1,717.5 1338.8,727.5 1350.6,776 1362.4,726.3 1374.2,722.5 1385.9,721.3 1397.7,731.2 1409.5,766.1 1421.2,793.5 1433,754.9 1444.8,747.4 1468.3,732.5 1480.1,720 1491.9,791 1503.6,771.1 1527.2,712.6 1539,741.2 1550.7,707.6 1562.5,746.2 1574.3,669 1586.1,666.5 1597.8,756.1 1609.6,727.5 1621.4,674"/>
<polyline points="1680.2,698.9 1692,692.7 1715.5,692.7 1727.3,726.3 1739.1,741.2 1750.9,713.8 1774.4,741.2 1786.2,791 1797.9,779.8 1809.7,789.7 1845,767.3 1856.8,723.8 1868.6,736.2 1880.4,601.8 1903.9,751.1 1915.7,783.5 1927.4,798.4 1939.2,758.6 1962.8,797.2 1974.5,814.6 1986.3,803.4 1998.1,797.2"/>
<polyline points="2045.2,767.2 2056.9,813 2092.2,741.3 2104,788.7 2115.8,777.2 2151.1,751.4 2162.9,784.4 2174.7,780.1 2186.4,807.3 2210,771.5 2221.7,798.7 2233.5,781.5 2245.3,675.4 2280.6,423 2292.4,620.3"/>
<circle cx="220.5" cy="383.1" r="13.2"/>
<circle cx="232.3" cy="474.8" r="13.2"/>
<circle cx="267.6" cy="703.4" r="13.2"/>
<circle cx="279.4" cy="465" r="13.2"/>
<circle cx="291.1" cy="712.6" r="13.2"/>
<circle cx="302.9" cy="685.2" r="13.2"/>
<circle cx="314.7" cy="674" r="13.2"/>
<circle cx="326.4" cy="461.8" r="13.2"/>
<circle cx="338.2" cy="606.8" r="13.2"/>
<circle cx="350" cy="725" r="13.2"/>
<circle cx="361.8" cy="759.9" r="13.2"/>
<circle cx="373.5" cy="701.4" r="13.2"/>
<circle cx="397.1" cy="763.6" r="13.2"/>
<circle cx="408.9" cy="771.1" r="13.2"/>
<circle cx="420.6" cy="781" r="13.2"/>
<circle cx="432.4" cy="789.7" r="13.2"/>
<circle cx="444.2" cy="778.5" r="13.2"/>
<circle cx="455.9" cy="762.3" r="13.2"/>
<circle cx="467.7" cy="564.5" r="13.2"/>
<circle cx="479.5" cy="769.8" r="13.2"/>
<circle cx="491.3" cy="762.3" r="13.2"/>
<circle cx="503" cy="754.9" r="13.2"/>
<circle cx="514.8" cy="707.6" r="13.2"/>
<circle cx="526.6" cy="710.1" r="13.2"/>
<circle cx="585.4" cy="681.5" r="13.2"/>
<circle cx="597.2" cy="720" r="13.2"/>
<circle cx="609" cy="722.5" r="13.2"/>
<circle cx="620.7" cy="744.9" r="13.2"/>
<circle cx="632.5" cy="748.7" r="13.2"/>
<circle cx="644.3" cy="763.6" r="13.2"/>
<circle cx="656.1" cy="789.7" r="13.2"/>
<circle cx="667.8" cy="761.1" r="13.2"/>
<circle cx="679.6" cy="771.1" r="13.2"/>
<circle cx="691.4" cy="812.1" r="13.2"/>
<circle cx="703.2" cy="793.5" r="13.2"/>
<circle cx="714.9" cy="793.5" r="13.2"/>
<circle cx="726.7" cy="793.5" r="13.2"/>
<circle cx="738.5" cy="695.1" r="13.2"/>
<circle cx="750.2" cy="748.7" r="13.2"/>
<circle cx="762" cy="767.3" r="13.2"/>
<circle cx="773.8" cy="814.6" r="13.2"/>
<circle cx="785.6" cy="800.9" r="13.2"/>
<circle cx="797.3" cy="815.9" r="13.2"/>
<circle cx="809.1" cy="798.4" r="13.2"/>
<circle cx="820.9" cy="777.3" r="13.2"/>
<circle cx="832.6" cy="766.1" r="13.2"/>
<circle cx="844.4" cy="773.5" r="13.2"/>
<circle cx="856.2" cy="754.9" r="13.2"/>
<circle cx="868" cy="779.8" r="13.2"/>
<circle cx="879.7" cy="771.1" r="13.2"/>
<circle cx="891.5" cy="789.7" r="13.2"/>
<circle cx="903.3" cy="776" r="13.2"/>
<circle cx="915" cy="795.9" r="13.2"/>
<circle cx="926.8" cy="783.5" r="13.2"/>
<circle cx="938.6" cy="795.9" r="13.2"/>
<circle cx="950.4" cy="798.4" r="13.2"/>
<circle cx="962.1" cy="748.7" r="13.2"/>
<circle cx="973.9" cy="743.7" r="13.2"/>
<circle cx="985.7" cy="744.9" r="13.2"/>
<circle cx="997.5" cy="804.7" r="13.2"/>
<circle cx="1009.2" cy="768.6" r="13.2"/>
<circle cx="1021" cy="788.5" r="13.2"/>
<circle cx="1032.8" cy="788.5" r="13.2"/>
<circle cx="1044.5" cy="773.5" r="13.2"/>
<circle cx="1056.3" cy="800.9" r="13.2"/>
<circle cx="1068.1" cy="778.5" r="13.2"/>
<circle cx="1079.9" cy="784.7" r="13.2"/>
<circle cx="1091.6" cy="739.9" r="13.2"/>
<circle cx="1103.4" cy="748.7" r="13.2"/>
<circle cx="1115.2" cy="758.6" r="13.2"/>
<circle cx="1126.9" cy="781" r="13.2"/>
<circle cx="1138.7" cy="802.2" r="13.2"/>
<circle cx="1150.5" cy="741.2" r="13.2"/>
<circle cx="1162.3" cy="774.8" r="13.2"/>
<circle cx="1174" cy="777.3" r="13.2"/>
<circle cx="1185.8" cy="769.8" r="13.2"/>
<circle cx="1197.6" cy="800.9" r="13.2"/>
<circle cx="1209.3" cy="823.3" r="13.2"/>
<circle cx="1221.1" cy="777.3" r="13.2"/>
<circle cx="1232.9" cy="748.7" r="13.2"/>
<circle cx="1244.7" cy="744.9" r="13.2"/>
<circle cx="1256.4" cy="706.3" r="13.2"/>
<circle cx="1268.2" cy="739.9" r="13.2"/>
<circle cx="1280" cy="751.1" r="13.2"/>
<circle cx="1291.8" cy="744.9" r="13.2"/>
<circle cx="1303.5" cy="711.3" r="13.2"/>
<circle cx="1315.3" cy="691.4" r="13.2"/>
<circle cx="1327.1" cy="717.5" r="13.2"/>
<circle cx="1338.8" cy="727.5" r="13.2"/>
<circle cx="1350.6" cy="776" r="13.2"/>
<circle cx="1362.4" cy="726.3" r="13.2"/>
<circle cx="1374.2" cy="722.5" r="13.2"/>
<circle cx="1385.9" cy="721.3" r="13.2"/>
<circle cx="1397.7" cy="731.2" r="13.2"/>
<circle cx="1409.5" cy="766.1" r="13.2"/>
<circle cx="1421.2" cy="793.5" r="13.2"/>
<circle cx="1433" cy="754.9" r="13.2"/>
<circle cx="1444.8" cy="747.4" r="13.2"/>
<circle cx="1468.3" cy="732.5" r="13.2"/>
<circle cx="1480.1" cy="720" r="13.2"/>
<circle cx="1491.9" cy="791" r="13.2"/>
<circle cx="1503.6" cy="771.1" r="13.2"/>
<circle cx="1527.2" cy="712.6" r="13.2"/>
<circle cx="1539" cy="741.2" r="13.2"/>
<circle cx="1550.7" cy="707.6" r="13.2"/>
<circle cx="1562.5" cy="746.2" r="13.2"/>
<circle cx="1574.3" cy="669" r="13.2"/>
<circle cx="1586.1" cy="666.5" r="13.2"/>
<circle cx="1597.8" cy="756.1" r="13.2"/>
<circle cx="1609.6" cy="727.5" r="13.2"/>
<circle cx="1621.4" cy="674" r="13.2"/>
<circle cx="1680.2" cy="698.9" r="13.2"/>
<circle cx="1692" cy="692.7" r="13.2"/>
<circle cx="1715.5" cy="692.7" r="13.2"/>
<circle cx="1727.3" cy="726.3" r="13.2"/>
<circle cx="1739.1" cy="741.2" r="13.2"/>
<circle cx="1750.9" cy="713.8" r="13.2"/>
<circle cx="1774.4" cy="741.2" r="13.2"/>
<circle cx="1786.2" cy="791" r="13.2"/>
<circle cx="1797.9" cy="779.8" r="13.2"/>
<circle cx="1809.7" cy="789.7" r="13.2"/>
<circle cx="1845" cy="767.3" r="13.2"/>
<circle cx="1856.8" cy="723.8" r="13.2"/>
<circle cx="1868.6" cy="736.2" r="13.2"/>
<circle cx="1880.4" cy="601.8" r="13.2"/>
<circle cx="1903.9" cy="751.1" r="13.2"/>
<circle cx="1915.7" cy="783.5" r="13.2"/>
<circle cx="1927.4" cy="798.4" r="13.2"/>
<circle cx="1939.2" cy="758.6" r="13.2"/>
<circle cx="1962.8" cy="797.2" r="13.2"/>
<circle cx="1974.5" cy="814.6" r="13.2"/>
<circle cx="1986.3" cy="803.4" r="13.2"/>
<circle cx="1998.1" cy="797.2" r="13.2"/>
<circle cx="2045.2" cy="767.2" r="13.2"/>
<circle cx="2056.9" cy="813" r="13.2"/>
<circle cx="2092.2" cy="741.3" r="13.2"/>
<circle cx="2104" cy="788.7" r="13.2"/>
<circle cx="2115.8" cy="777.2" r="13.2"/>
<circle cx="2151.1" cy="751.4" r="13.2"/>
<circle cx="2162.9" cy="784.4" r="13.2"/>
<circle cx="2174.7" cy="780.1" r="13.2"/>
<circle cx="2186.4" cy="807.3" r="13.2"/>
<circle cx="2210" cy="771.5" r="13.2"/>
<circle cx="2221.7" cy="798.7" r="13.2"/>
<circle cx="2233.5" cy="781.5" r="13.2"/>
<circle cx="2245.3" cy="675.4" r="13.2"/>
<circle cx="2280.6" cy="423" r="13.2"/>
<circle cx="2292.4" cy="620.3" r="13.2"/>
</g>
<g fill="url(#gd)" shape-rendering="crispEdges">
<rect x="452" y="1128" width="7" height="789"/>
<rect x="735" y="1128" width="7" height="789"/>
<rect x="1017" y="1128" width="7" height="789"/>
<rect x="1300" y="1128" width="7" height="789"/>
<rect x="1582" y="1128" width="7" height="789"/>
<rect x="1865" y="1128" width="7" height="789"/>
<rect x="2147" y="1128" width="7" height="789"/>
<rect x="220" y="1702" width="2072" height="7"/>
<rect x="220" y="1480" width="2072" height="7"/>
<rect x="220" y="1259" width="2072" height="7"/>
</g>
<g fill="url(#gx)" shape-rendering="crispEdges">
<rect x="452" y="1702" width="7" height="7"/>
<rect x="452" y="1480" width="7" height="7"/>
<rect x="452" y="1259" width="7" height="7"/>
<rect x="735" y="1702" width="7" height="7"/>
<rect x="735" y="1480" width="7" height="7"/>
<rect x="735" y="1259" width="7" height="7"/>
<rect x="1017" y="1702" width="7" height="7"/>
<rect x="1017" y="1480" width="7" height="7"/>
<rect x="1017" y="1259" width="7" height="7"/>
<rect x="1300" y="1702" width="7" height="7"/>
<rect x="1300" y="1480" width="7" height="7"/>
<rect x="1300" y="1259" width="7" height="7"/>
<rect x="1582" y="1702" width="7" height="7"/>
<rect x="1582" y="1480" width="7" height="7"/>
<rect x="1582" y="1259" width="7" height="7"/>
<rect x="1865" y="1702" width="7" height="7"/>
<rect x="1865" y="1480" width="7" height="7"/>
<rect x="1865" y="1259" width="7" height="7"/>
<rect x="2147" y="1702" width="7" height="7"/>
<rect x="2147" y="1480" width="7" height="7"/>
<rect x="2147" y="1259" width="7" height="7"/>
</g>
<g stroke="#262626" stroke-width="7" fill="none" stroke-linecap="butt">
<rect x="220.5" y="1128.3" width="2071.5" height="789.4"/>
<line x1="455.7" y1="1128.3" x2="455.7" y2="1151.8"/>
<line x1="455.7" y1="1917.7" x2="455.7" y2="1894.2"/>
<line x1="738.2" y1="1128.3" x2="738.2" y2="1151.8"/>
<line x1="738.2" y1="1917.7" x2="738.2" y2="1894.2"/>
<line x1="1020.7" y1="1128.3" x2="1020.7" y2="1151.8"/>
<line x1="1020.7" y1="1917.7" x2="1020.7" y2="1894.2"/>
<line x1="1303.3" y1="1128.3" x2="1303.3" y2="1151.8"/>
<line x1="1303.3" y1="1917.7" x2="1303.3" y2="1894.2"/>
<line x1="1585.8" y1="1128.3" x2="1585.8" y2="1151.8"/>
<line x1="1585.8" y1="1917.7" x2="1585.8" y2="1894.2"/>
<line x1="1868.3" y1="1128.3" x2="1868.3" y2="1151.8"/>
<line x1="1868.3" y1="1917.7" x2="1868.3" y2="1894.2"/>
<line x1="2150.8" y1="1128.3" x2="2150.8" y2="1151.8"/>
<line x1="2150.8" y1="1917.7" x2="2150.8" y2="1894.2"/>
<line x1="220.5" y1="1704.8" x2="244" y2="1704.8"/>
<line x1="2292" y1="1704.8" x2="2268.5" y2="1704.8"/>
<line x1="220.5" y1="1483.3" x2="244" y2="1483.3"/>
<line x1="2292" y1="1483.3" x2="2268.5" y2="1483.3"/>
<line x1="220.5" y1="1261.8" x2="244" y2="1261.8"/>
<line x1="2292" y1="1261.8" x2="2268.5" y2="1261.8"/>
</g>
<g class="tk">
<text x="197.5" y="1721.3" text-anchor="end">5</text>
<text x="197.5" y="1499.8" text-anchor="end">10</text>
<text x="197.5" y="1278.3" text-anchor="end">15</text>
<text x="455.7" y="1996.9" text-anchor="middle">2004</text>
<text x="738.2" y="1996.9" text-anchor="middle">2006</text>
<text x="1020.7" y="1996.9" text-anchor="middle">2008</text>
<text x="1303.3" y="1996.9" text-anchor="middle">2010</text>
<text x="1585.8" y="1996.9" text-anchor="middle">2012</text>
<text x="1868.3" y="1996.9" text-anchor="middle">2014</text>
<text x="2150.8" y="1996.9" text-anchor="middle">2016</text>
<text class="tm" x="246.2" y="1107.2" text-anchor="middle">×</text>
<text class="ex" x="274.5" y="1104.7">10</text>
<text class="sm" x="358" y="1081.2" text-anchor="middle">−</text>
<text class="sup" x="376.5" y="1080.2">3</text>
</g>
<text class="ti" x="1256.5" y="1104.4" text-anchor="middle">Karakum(300km+P4M6)</text>
<g stroke="#ff0000" stroke-width="6.5" fill="none" stroke-linejoin="round">
<polyline points="220.5,1473.4 232.3,1714.5 267.6,1446.3 279.4,1609.8 291.1,1646.7 302.9,1699 314.7,1469.5 326.4,1340 338.2,1430 350,1693.1 361.8,1763.3 373.5,1858.6 397.1,1801.4 408.9,1813.3 420.6,1861 432.4,1756.2 444.2,1765.7 455.9,1753.8 467.7,1772.9 479.5,1707.4 491.3,1863.3 503,1600.2 514.8,1646.7 526.6,1632.4"/>
<polyline points="585.4,1800.2 597.2,1496 609,1738.3 620.7,1488 632.5,1506.2 644.3,1507 656.1,1537.9 667.8,1647.6 679.6,1658.9 691.4,1668.7 703.2,1438 714.9,1495.7 726.7,1644.8 738.5,1709.5 750.2,1639.2 762,1487.2 773.8,1763 785.6,1774.2 797.3,1802.4 809.1,1855.8 820.9,1822.1 832.6,1850.2 844.4,1665.9 856.2,1822.1 868,1838.9 879.7,1808 891.5,1754.5 903.3,1760.2 915,1833.3 926.8,1595.6 938.6,1751.7 950.4,1765.8 962.1,1808 973.9,1779.9 985.7,1867.1 997.5,1822.1 1009.2,1663.1 1021,1822.1 1032.8,1760.2 1044.5,1853 1056.3,1737.6 1068.1,1715.1 1079.9,1563.2 1091.6,1585.7 1103.4,1660.3 1115.2,1822.1 1126.9,1718 1138.7,1793.9 1150.5,1537.9 1162.3,1580.1 1174,1622.3 1185.8,1546.3 1197.6,1568.8 1209.3,1813.6 1221.1,1774.2 1232.9,1680 1244.7,1799.5 1256.4,1861.5 1268.2,1763 1280,1746.1 1291.8,1732 1303.5,1763 1315.3,1822.1 1327.1,1813.6 1338.8,1765.8 1350.6,1779.9 1362.4,1791.1 1374.2,1710.9 1385.9,1864.3 1397.7,1822.1 1409.5,1816.4 1421.2,1864.3 1433,1875.5 1444.8,1816.4 1468.3,1723.6 1480.1,1705.3 1491.9,1760.2 1503.6,1782.7 1527.2,1799.5 1539,1844.6 1550.7,1774.2 1562.5,1822.1 1574.3,1816.4 1586.1,1695.4 1597.8,1737.6 1609.6,1822.1 1621.4,1619.5"/>
<polyline points="1680.2,1649.9 1692,1709.5 1715.5,1805.2 1727.3,1667.3 1739.1,1822.1 1750.9,1805.2 1774.4,1734.8 1786.2,1774.2 1797.9,1779.9 1809.7,1779.9 1845,1760.2 1856.8,1850.2 1868.6,1740.5 1880.4,1561.8 1903.9,1582.9 1915.7,1678.6 1927.4,1833.3 1939.2,1844.6 1962.8,1723.6 1974.5,1743.3 1986.3,1830.5 1998.1,1796.7"/>
<polyline points="2045.2,1816 2056.9,1843.6 2092.2,1665.1 2104,1836.2 2115.8,1808.6 2151.1,1681.7 2162.9,1795.8 2174.7,1608.1 2186.4,1582.3 2210,1819.7 2221.7,1792.1 2233.5,1776.6 2245.3,1580.4 2280.6,1593.3 2292.4,1840.7"/>
<circle cx="220.5" cy="1473.4" r="13.2"/>
<circle cx="232.3" cy="1714.5" r="13.2"/>
<circle cx="267.6" cy="1446.3" r="13.2"/>
<circle cx="279.4" cy="1609.8" r="13.2"/>
<circle cx="291.1" cy="1646.7" r="13.2"/>
<circle cx="302.9" cy="1699" r="13.2"/>
<circle cx="314.7" cy="1469.5" r="13.2"/>
<circle cx="326.4" cy="1340" r="13.2"/>
<circle cx="338.2" cy="1430" r="13.2"/>
<circle cx="350" cy="1693.1" r="13.2"/>
<circle cx="361.8" cy="1763.3" r="13.2"/>
<circle cx="373.5" cy="1858.6" r="13.2"/>
<circle cx="397.1" cy="1801.4" r="13.2"/>
<circle cx="408.9" cy="1813.3" r="13.2"/>
<circle cx="420.6" cy="1861" r="13.2"/>
<circle cx="432.4" cy="1756.2" r="13.2"/>
<circle cx="444.2" cy="1765.7" r="13.2"/>
<circle cx="455.9" cy="1753.8" r="13.2"/>
<circle cx="467.7" cy="1772.9" r="13.2"/>
<circle cx="479.5" cy="1707.4" r="13.2"/>
<circle cx="491.3" cy="1863.3" r="13.2"/>
<circle cx="503" cy="1600.2" r="13.2"/>
<circle cx="514.8" cy="1646.7" r="13.2"/>
<circle cx="526.6" cy="1632.4" r="13.2"/>
<circle cx="585.4" cy="1800.2" r="13.2"/>
<circle cx="597.2" cy="1496" r="13.2"/>
<circle cx="609" cy="1738.3" r="13.2"/>
<circle cx="620.7" cy="1488" r="13.2"/>
<circle cx="632.5" cy="1506.2" r="13.2"/>
<circle cx="644.3" cy="1507" r="13.2"/>
<circle cx="656.1" cy="1537.9" r="13.2"/>
<circle cx="667.8" cy="1647.6" r="13.2"/>
<circle cx="679.6" cy="1658.9" r="13.2"/>
<circle cx="691.4" cy="1668.7" r="13.2"/>
<circle cx="703.2" cy="1438" r="13.2"/>
<circle cx="714.9" cy="1495.7" r="13.2"/>
<circle cx="726.7" cy="1644.8" r="13.2"/>
<circle cx="738.5" cy="1709.5" r="13.2"/>
<circle cx="750.2" cy="1639.2" r="13.2"/>
<circle cx="762" cy="1487.2" r="13.2"/>
<circle cx="773.8" cy="1763" r="13.2"/>
<circle cx="785.6" cy="1774.2" r="13.2"/>
<circle cx="797.3" cy="1802.4" r="13.2"/>
<circle cx="809.1" cy="1855.8" r="13.2"/>
<circle cx="820.9" cy="1822.1" r="13.2"/>
<circle cx="832.6" cy="1850.2" r="13.2"/>
<circle cx="844.4" cy="1665.9" r="13.2"/>
<circle cx="856.2" cy="1822.1" r="13.2"/>
<circle cx="868" cy="1838.9" r="13.2"/>
<circle cx="879.7" cy="1808" r="13.2"/>
<circle cx="891.5" cy="1754.5" r="13.2"/>
<circle cx="903.3" cy="1760.2" r="13.2"/>
<circle cx="915" cy="1833.3" r="13.2"/>
<circle cx="926.8" cy="1595.6" r="13.2"/>
<circle cx="938.6" cy="1751.7" r="13.2"/>
<circle cx="950.4" cy="1765.8" r="13.2"/>
<circle cx="962.1" cy="1808" r="13.2"/>
<circle cx="973.9" cy="1779.9" r="13.2"/>
<circle cx="985.7" cy="1867.1" r="13.2"/>
<circle cx="997.5" cy="1822.1" r="13.2"/>
<circle cx="1009.2" cy="1663.1" r="13.2"/>
<circle cx="1021" cy="1822.1" r="13.2"/>
<circle cx="1032.8" cy="1760.2" r="13.2"/>
<circle cx="1044.5" cy="1853" r="13.2"/>
<circle cx="1056.3" cy="1737.6" r="13.2"/>
<circle cx="1068.1" cy="1715.1" r="13.2"/>
<circle cx="1079.9" cy="1563.2" r="13.2"/>
<circle cx="1091.6" cy="1585.7" r="13.2"/>
<circle cx="1103.4" cy="1660.3" r="13.2"/>
<circle cx="1115.2" cy="1822.1" r="13.2"/>
<circle cx="1126.9" cy="1718" r="13.2"/>
<circle cx="1138.7" cy="1793.9" r="13.2"/>
<circle cx="1150.5" cy="1537.9" r="13.2"/>
<circle cx="1162.3" cy="1580.1" r="13.2"/>
<circle cx="1174" cy="1622.3" r="13.2"/>
<circle cx="1185.8" cy="1546.3" r="13.2"/>
<circle cx="1197.6" cy="1568.8" r="13.2"/>
<circle cx="1209.3" cy="1813.6" r="13.2"/>
<circle cx="1221.1" cy="1774.2" r="13.2"/>
<circle cx="1232.9" cy="1680" r="13.2"/>
<circle cx="1244.7" cy="1799.5" r="13.2"/>
<circle cx="1256.4" cy="1861.5" r="13.2"/>
<circle cx="1268.2" cy="1763" r="13.2"/>
<circle cx="1280" cy="1746.1" r="13.2"/>
<circle cx="1291.8" cy="1732" r="13.2"/>
<circle cx="1303.5" cy="1763" r="13.2"/>
<circle cx="1315.3" cy="1822.1" r="13.2"/>
<circle cx="1327.1" cy="1813.6" r="13.2"/>
<circle cx="1338.8" cy="1765.8" r="13.2"/>
<circle cx="1350.6" cy="1779.9" r="13.2"/>
<circle cx="1362.4" cy="1791.1" r="13.2"/>
<circle cx="1374.2" cy="1710.9" r="13.2"/>
<circle cx="1385.9" cy="1864.3" r="13.2"/>
<circle cx="1397.7" cy="1822.1" r="13.2"/>
<circle cx="1409.5" cy="1816.4" r="13.2"/>
<circle cx="1421.2" cy="1864.3" r="13.2"/>
<circle cx="1433" cy="1875.5" r="13.2"/>
<circle cx="1444.8" cy="1816.4" r="13.2"/>
<circle cx="1468.3" cy="1723.6" r="13.2"/>
<circle cx="1480.1" cy="1705.3" r="13.2"/>
<circle cx="1491.9" cy="1760.2" r="13.2"/>
<circle cx="1503.6" cy="1782.7" r="13.2"/>
<circle cx="1527.2" cy="1799.5" r="13.2"/>
<circle cx="1539" cy="1844.6" r="13.2"/>
<circle cx="1550.7" cy="1774.2" r="13.2"/>
<circle cx="1562.5" cy="1822.1" r="13.2"/>
<circle cx="1574.3" cy="1816.4" r="13.2"/>
<circle cx="1586.1" cy="1695.4" r="13.2"/>
<circle cx="1597.8" cy="1737.6" r="13.2"/>
<circle cx="1609.6" cy="1822.1" r="13.2"/>
<circle cx="1621.4" cy="1619.5" r="13.2"/>
<circle cx="1680.2" cy="1649.9" r="13.2"/>
<circle cx="1692" cy="1709.5" r="13.2"/>
<circle cx="1715.5" cy="1805.2" r="13.2"/>
<circle cx="1727.3" cy="1667.3" r="13.2"/>
<circle cx="1739.1" cy="1822.1" r="13.2"/>
<circle cx="1750.9" cy="1805.2" r="13.2"/>
<circle cx="1774.4" cy="1734.8" r="13.2"/>
<circle cx="1786.2" cy="1774.2" r="13.2"/>
<circle cx="1797.9" cy="1779.9" r="13.2"/>
<circle cx="1809.7" cy="1779.9" r="13.2"/>
<circle cx="1845" cy="1760.2" r="13.2"/>
<circle cx="1856.8" cy="1850.2" r="13.2"/>
<circle cx="1868.6" cy="1740.5" r="13.2"/>
<circle cx="1880.4" cy="1561.8" r="13.2"/>
<circle cx="1903.9" cy="1582.9" r="13.2"/>
<circle cx="1915.7" cy="1678.6" r="13.2"/>
<circle cx="1927.4" cy="1833.3" r="13.2"/>
<circle cx="1939.2" cy="1844.6" r="13.2"/>
<circle cx="1962.8" cy="1723.6" r="13.2"/>
<circle cx="1974.5" cy="1743.3" r="13.2"/>
<circle cx="1986.3" cy="1830.5" r="13.2"/>
<circle cx="1998.1" cy="1796.7" r="13.2"/>
<circle cx="2045.2" cy="1816" r="13.2"/>
<circle cx="2056.9" cy="1843.6" r="13.2"/>
<circle cx="2092.2" cy="1665.1" r="13.2"/>
<circle cx="2104" cy="1836.2" r="13.2"/>
<circle cx="2115.8" cy="1808.6" r="13.2"/>
<circle cx="2151.1" cy="1681.7" r="13.2"/>
<circle cx="2162.9" cy="1795.8" r="13.2"/>
<circle cx="2174.7" cy="1608.1" r="13.2"/>
<circle cx="2186.4" cy="1582.3" r="13.2"/>
<circle cx="2210" cy="1819.7" r="13.2"/>
<circle cx="2221.7" cy="1792.1" r="13.2"/>
<circle cx="2233.5" cy="1776.6" r="13.2"/>
<circle cx="2245.3" cy="1580.4" r="13.2"/>
<circle cx="2280.6" cy="1593.3" r="13.2"/>
<circle cx="2292.4" cy="1840.7" r="13.2"/>
</g>
<g stroke="#00ffff" stroke-width="6.5" fill="none" stroke-linejoin="round">
<polyline points="220.5,1687.1 232.3,1732.4 267.6,1516.8 279.4,1497 291.1,1577.6 302.9,1606.2 314.7,1405.2 326.4,1352.5 338.2,1349.8 350,1836 361.8,1765.7 373.5,1813.3 397.1,1764.5 408.9,1825.2 420.6,1866.9 432.4,1799 444.2,1665.7 455.9,1749 467.7,1851.4 479.5,1647.9 491.3,1765.7 503,1694.3 514.8,1469.5 526.6,1753.8"/>
<polyline points="585.4,1761 597.2,1616.9 609,1787.1 620.7,1546.7 632.5,1580 644.3,1551.4 656.1,1582.9 667.8,1602.6 679.6,1653.2 691.4,1712.3 703.2,1467.5 714.9,1456.3 726.7,1627.9 738.5,1720.8 750.2,1653.2 762,1684.2 773.8,1763 785.6,1765.8 797.3,1819.2 809.1,1793.9 820.9,1765.8 832.6,1889.6 844.4,1748.9 856.2,1816.4 868,1838.9 879.7,1838.9 891.5,1765.8 903.3,1844.6 915,1844.6 926.8,1581.5 938.6,1830.5 950.4,1779.9 962.1,1718 973.9,1732 985.7,1827.7 997.5,1782.7 1009.2,1627.9 1021,1779.9 1032.8,1729.2 1044.5,1827.7 1056.3,1720.8 1068.1,1689.8 1079.9,1522.4 1091.6,1568.8 1103.4,1718 1115.2,1867.1 1126.9,1779.9 1138.7,1808 1150.5,1571.6 1162.3,1588.5 1174,1644.8 1185.8,1625.1 1197.6,1627.9 1209.3,1793.9 1221.1,1732 1232.9,1808 1244.7,1765.8 1256.4,1822.1 1268.2,1715.1 1280,1768.6 1291.8,1737.6 1303.5,1793.9 1315.3,1779.9 1327.1,1788.3 1338.8,1793.9 1350.6,1822.1 1362.4,1737.6 1374.2,1765.8 1385.9,1808 1397.7,1836.1 1409.5,1861.5 1421.2,1822.1 1433,1763 1444.8,1808 1468.3,1774.2 1480.1,1777 1491.9,1723.6 1503.6,1808 1527.2,1765.8 1539,1788.3 1550.7,1847.4 1562.5,1793.9 1574.3,1808 1586.1,1765.8 1597.8,1793.9 1609.6,1816.4 1621.4,1675.2"/>
<polyline points="1680.2,1726.4 1692,1718 1715.5,1786.9 1727.3,1656 1739.1,1867.1 1750.9,1743.3 1774.4,1751.7 1786.2,1813.6 1797.9,1816.4 1809.7,1799.5 1845,1805.2 1856.8,1758.8 1868.6,1695.4 1880.4,1869.9 1903.9,1644.8 1915.7,1681.4 1927.4,1739.1 1939.2,1805.2 1962.8,1703.9 1974.5,1646.2 1986.3,1763 1998.1,1727.8"/>
<polyline points="2045.2,1801.3 2056.9,1883.4 2092.2,1744.2 2104,1792.1 2115.8,1812.3 2151.1,1714.8 2162.9,1845.4 2174.7,1803.1 2186.4,1698.2 2210,1799.4 2221.7,1766.3 2233.5,1803.1 2245.3,1576.8 2280.6,1499.5 2292.4,1554.7"/>
<circle cx="220.5" cy="1687.1" r="13.2"/>
<circle cx="232.3" cy="1732.4" r="13.2"/>
<circle cx="267.6" cy="1516.8" r="13.2"/>
<circle cx="279.4" cy="1497" r="13.2"/>
<circle cx="291.1" cy="1577.6" r="13.2"/>
<circle cx="302.9" cy="1606.2" r="13.2"/>
<circle cx="314.7" cy="1405.2" r="13.2"/>
<circle cx="326.4" cy="1352.5" r="13.2"/>
<circle cx="338.2" cy="1349.8" r="13.2"/>
<circle cx="350" cy="1836" r="13.2"/>
<circle cx="361.8" cy="1765.7" r="13.2"/>
<circle cx="373.5" cy="1813.3" r="13.2"/>
<circle cx="397.1" cy="1764.5" r="13.2"/>
<circle cx="408.9" cy="1825.2" r="13.2"/>
<circle cx="420.6" cy="1866.9" r="13.2"/>
<circle cx="432.4" cy="1799" r="13.2"/>
<circle cx="444.2" cy="1665.7" r="13.2"/>
<circle cx="455.9" cy="1749" r="13.2"/>
<circle cx="467.7" cy="1851.4" r="13.2"/>
<circle cx="479.5" cy="1647.9" r="13.2"/>
<circle cx="491.3" cy="1765.7" r="13.2"/>
<circle cx="503" cy="1694.3" r="13.2"/>
<circle cx="514.8" cy="1469.5" r="13.2"/>
<circle cx="526.6" cy="1753.8" r="13.2"/>
<circle cx="585.4" cy="1761" r="13.2"/>
<circle cx="597.2" cy="1616.9" r="13.2"/>
<circle cx="609" cy="1787.1" r="13.2"/>
<circle cx="620.7" cy="1546.7" r="13.2"/>
<circle cx="632.5" cy="1580" r="13.2"/>
<circle cx="644.3" cy="1551.4" r="13.2"/>
<circle cx="656.1" cy="1582.9" r="13.2"/>
<circle cx="667.8" cy="1602.6" r="13.2"/>
<circle cx="679.6" cy="1653.2" r="13.2"/>
<circle cx="691.4" cy="1712.3" r="13.2"/>
<circle cx="703.2" cy="1467.5" r="13.2"/>
<circle cx="714.9" cy="1456.3" r="13.2"/>
<circle cx="726.7" cy="1627.9" r="13.2"/>
<circle cx="738.5" cy="1720.8" r="13.2"/>
<circle cx="750.2" cy="1653.2" r="13.2"/>
<circle cx="762" cy="1684.2" r="13.2"/>
<circle cx="773.8" cy="1763" r="13.2"/>
<circle cx="785.6" cy="1765.8" r="13.2"/>
<circle cx="797.3" cy="1819.2" r="13.2"/>
<circle cx="809.1" cy="1793.9" r="13.2"/>
<circle cx="820.9" cy="1765.8" r="13.2"/>
<circle cx="832.6" cy="1889.6" r="13.2"/>
<circle cx="844.4" cy="1748.9" r="13.2"/>
<circle cx="856.2" cy="1816.4" r="13.2"/>
<circle cx="868" cy="1838.9" r="13.2"/>
<circle cx="879.7" cy="1838.9" r="13.2"/>
<circle cx="891.5" cy="1765.8" r="13.2"/>
<circle cx="903.3" cy="1844.6" r="13.2"/>
<circle cx="915" cy="1844.6" r="13.2"/>
<circle cx="926.8" cy="1581.5" r="13.2"/>
<circle cx="938.6" cy="1830.5" r="13.2"/>
<circle cx="950.4" cy="1779.9" r="13.2"/>
<circle cx="962.1" cy="1718" r="13.2"/>
<circle cx="973.9" cy="1732" r="13.2"/>
<circle cx="985.7" cy="1827.7" r="13.2"/>
<circle cx="997.5" cy="1782.7" r="13.2"/>
<circle cx="1009.2" cy="1627.9" r="13.2"/>
<circle cx="1021" cy="1779.9" r="13.2"/>
<circle cx="1032.8" cy="1729.2" r="13.2"/>
<circle cx="1044.5" cy="1827.7" r="13.2"/>
<circle cx="1056.3" cy="1720.8" r="13.2"/>
<circle cx="1068.1" cy="1689.8" r="13.2"/>
<circle cx="1079.9" cy="1522.4" r="13.2"/>
<circle cx="1091.6" cy="1568.8" r="13.2"/>
<circle cx="1103.4" cy="1718" r="13.2"/>
<circle cx="1115.2" cy="1867.1" r="13.2"/>
<circle cx="1126.9" cy="1779.9" r="13.2"/>
<circle cx="1138.7" cy="1808" r="13.2"/>
<circle cx="1150.5" cy="1571.6" r="13.2"/>
<circle cx="1162.3" cy="1588.5" r="13.2"/>
<circle cx="1174" cy="1644.8" r="13.2"/>
<circle cx="1185.8" cy="1625.1" r="13.2"/>
<circle cx="1197.6" cy="1627.9" r="13.2"/>
<circle cx="1209.3" cy="1793.9" r="13.2"/>
<circle cx="1221.1" cy="1732" r="13.2"/>
<circle cx="1232.9" cy="1808" r="13.2"/>
<circle cx="1244.7" cy="1765.8" r="13.2"/>
<circle cx="1256.4" cy="1822.1" r="13.2"/>
<circle cx="1268.2" cy="1715.1" r="13.2"/>
<circle cx="1280" cy="1768.6" r="13.2"/>
<circle cx="1291.8" cy="1737.6" r="13.2"/>
<circle cx="1303.5" cy="1793.9" r="13.2"/>
<circle cx="1315.3" cy="1779.9" r="13.2"/>
<circle cx="1327.1" cy="1788.3" r="13.2"/>
<circle cx="1338.8" cy="1793.9" r="13.2"/>
<circle cx="1350.6" cy="1822.1" r="13.2"/>
<circle cx="1362.4" cy="1737.6" r="13.2"/>
<circle cx="1374.2" cy="1765.8" r="13.2"/>
<circle cx="1385.9" cy="1808" r="13.2"/>
<circle cx="1397.7" cy="1836.1" r="13.2"/>
<circle cx="1409.5" cy="1861.5" r="13.2"/>
<circle cx="1421.2" cy="1822.1" r="13.2"/>
<circle cx="1433" cy="1763" r="13.2"/>
<circle cx="1444.8" cy="1808" r="13.2"/>
<circle cx="1468.3" cy="1774.2" r="13.2"/>
<circle cx="1480.1" cy="1777" r="13.2"/>
<circle cx="1491.9" cy="1723.6" r="13.2"/>
<circle cx="1503.6" cy="1808" r="13.2"/>
<circle cx="1527.2" cy="1765.8" r="13.2"/>
<circle cx="1539" cy="1788.3" r="13.2"/>
<circle cx="1550.7" cy="1847.4" r="13.2"/>
<circle cx="1562.5" cy="1793.9" r="13.2"/>
<circle cx="1574.3" cy="1808" r="13.2"/>
<circle cx="1586.1" cy="1765.8" r="13.2"/>
<circle cx="1597.8" cy="1793.9" r="13.2"/>
<circle cx="1609.6" cy="1816.4" r="13.2"/>
<circle cx="1621.4" cy="1675.2" r="13.2"/>
<circle cx="1680.2" cy="1726.4" r="13.2"/>
<circle cx="1692" cy="1718" r="13.2"/>
<circle cx="1715.5" cy="1786.9" r="13.2"/>
<circle cx="1727.3" cy="1656" r="13.2"/>
<circle cx="1739.1" cy="1867.1" r="13.2"/>
<circle cx="1750.9" cy="1743.3" r="13.2"/>
<circle cx="1774.4" cy="1751.7" r="13.2"/>
<circle cx="1786.2" cy="1813.6" r="13.2"/>
<circle cx="1797.9" cy="1816.4" r="13.2"/>
<circle cx="1809.7" cy="1799.5" r="13.2"/>
<circle cx="1845" cy="1805.2" r="13.2"/>
<circle cx="1856.8" cy="1758.8" r="13.2"/>
<circle cx="1868.6" cy="1695.4" r="13.2"/>
<circle cx="1880.4" cy="1869.9" r="13.2"/>
<circle cx="1903.9" cy="1644.8" r="13.2"/>
<circle cx="1915.7" cy="1681.4" r="13.2"/>
<circle cx="1927.4" cy="1739.1" r="13.2"/>
<circle cx="1939.2" cy="1805.2" r="13.2"/>
<circle cx="1962.8" cy="1703.9" r="13.2"/>
<circle cx="1974.5" cy="1646.2" r="13.2"/>
<circle cx="1986.3" cy="1763" r="13.2"/>
<circle cx="1998.1" cy="1727.8" r="13.2"/>
<circle cx="2045.2" cy="1801.3" r="13.2"/>
<circle cx="2056.9" cy="1883.4" r="13.2"/>
<circle cx="2092.2" cy="1744.2" r="13.2"/>
<circle cx="2104" cy="1792.1" r="13.2"/>
<circle cx="2115.8" cy="1812.3" r="13.2"/>
<circle cx="2151.1" cy="1714.8" r="13.2"/>
<circle cx="2162.9" cy="1845.4" r="13.2"/>
<circle cx="2174.7" cy="1803.1" r="13.2"/>
<circle cx="2186.4" cy="1698.2" r="13.2"/>
<circle cx="2210" cy="1799.4" r="13.2"/>
<circle cx="2221.7" cy="1766.3" r="13.2"/>
<circle cx="2233.5" cy="1803.1" r="13.2"/>
<circle cx="2245.3" cy="1576.8" r="13.2"/>
<circle cx="2280.6" cy="1499.5" r="13.2"/>
<circle cx="2292.4" cy="1554.7" r="13.2"/>
</g>
<g stroke="#ffff00" stroke-width="6.5" fill="none" stroke-linejoin="round">
<polyline points="220.5,1554.3 232.3,1691.9 267.6,1393.6 279.4,1669.3 291.1,1637.1 302.9,1646.7 314.7,1436.4 326.4,1326.6 338.2,1403.4 350,1850.2 361.8,1749 373.5,1808.6 397.1,1718.1 408.9,1834.8 420.6,1862.1 432.4,1799 444.2,1649 455.9,1770.5 467.7,1775.2 479.5,1775.2 491.3,1761 503,1722.9 514.8,1670.5 526.6,1633.6"/>
<polyline points="585.4,1774 597.2,1450 609,1774 620.7,1544.3 632.5,1551.4 644.3,1518.1 656.1,1471.8 667.8,1692.1 679.6,1695.4 691.4,1703.9 703.2,1499.9 714.9,1523.8 726.7,1640.6 738.5,1705.3 750.2,1568.3 762,1640.6 773.8,1793.9 785.6,1708.1 797.3,1813.6 809.1,1763 820.9,1765.8 832.6,1884 844.4,1711.8 856.2,1850.2 868,1872.7 879.7,1850.2 891.5,1771.4 903.3,1751.7 915,1875.5 926.8,1618.1 938.6,1838.9 950.4,1878.3 962.1,1822.1 973.9,1701.1 985.7,1855.8 997.5,1743.3 1009.2,1743.3 1021,1748.9 1032.8,1751.7 1044.5,1793.9 1056.3,1751.7 1068.1,1751.7 1079.9,1568.8 1091.6,1554.8 1103.4,1699.7 1115.2,1867.1 1126.9,1765.8 1138.7,1816.4 1150.5,1502.7 1162.3,1585.7 1174,1649 1185.8,1568.8 1197.6,1563.2 1209.3,1822.1 1221.1,1799.5 1232.9,1743.3 1244.7,1681.4 1256.4,1779.9 1268.2,1667.3 1280,1698.3 1291.8,1701.1 1303.5,1723.6 1315.3,1765.8 1327.1,1760.2 1338.8,1681.4 1350.6,1751.7 1362.4,1763 1374.2,1861.5 1385.9,1861.5 1397.7,1808 1409.5,1850.2 1421.2,1861.5 1433,1793.9 1444.8,1816.4 1468.3,1737.6 1480.1,1737.6 1491.9,1810.8 1503.6,1727.8 1527.2,1774.2 1539,1765.8 1550.7,1876.9 1562.5,1808 1574.3,1723.6 1586.1,1703.9 1597.8,1765.8 1609.6,1819.2 1621.4,1571.1"/>
<polyline points="1680.2,1668.7 1692,1680 1715.5,1765.8 1727.3,1709.5 1739.1,1841.8 1750.9,1710.9 1774.4,1664.5 1786.2,1808 1797.9,1805.2 1809.7,1805.2 1845,1793.9 1856.8,1741.9 1868.6,1830.5 1880.4,1822.1 1903.9,1519.6 1915.7,1640.6 1927.4,1822.1 1939.2,1785.5 1962.8,1691.2 1974.5,1671.5 1986.3,1777 1998.1,1785.5"/>
<polyline points="2045.2,1757.1 2056.9,1872.3 2092.2,1639.3 2104,1788.4 2115.8,1786.6 2151.1,1685.3 2162.9,1792.1 2174.7,1806.8 2186.4,1689 2210,1771.8 2221.7,1738.7 2233.5,1827 2245.3,1582.3 2280.6,1284.2 2292.4,1284.2"/>
<circle cx="220.5" cy="1554.3" r="13.2"/>
<circle cx="232.3" cy="1691.9" r="13.2"/>
<circle cx="267.6" cy="1393.6" r="13.2"/>
<circle cx="279.4" cy="1669.3" r="13.2"/>
<circle cx="291.1" cy="1637.1" r="13.2"/>
<circle cx="302.9" cy="1646.7" r="13.2"/>
<circle cx="314.7" cy="1436.4" r="13.2"/>
<circle cx="326.4" cy="1326.6" r="13.2"/>
<circle cx="338.2" cy="1403.4" r="13.2"/>
<circle cx="350" cy="1850.2" r="13.2"/>
<circle cx="361.8" cy="1749" r="13.2"/>
<circle cx="373.5" cy="1808.6" r="13.2"/>
<circle cx="397.1" cy="1718.1" r="13.2"/>
<circle cx="408.9" cy="1834.8" r="13.2"/>
<circle cx="420.6" cy="1862.1" r="13.2"/>
<circle cx="432.4" cy="1799" r="13.2"/>
<circle cx="444.2" cy="1649" r="13.2"/>
<circle cx="455.9" cy="1770.5" r="13.2"/>
<circle cx="467.7" cy="1775.2" r="13.2"/>
<circle cx="479.5" cy="1775.2" r="13.2"/>
<circle cx="491.3" cy="1761" r="13.2"/>
<circle cx="503" cy="1722.9" r="13.2"/>
<circle cx="514.8" cy="1670.5" r="13.2"/>
<circle cx="526.6" cy="1633.6" r="13.2"/>
<circle cx="585.4" cy="1774" r="13.2"/>
<circle cx="597.2" cy="1450" r="13.2"/>
<circle cx="609" cy="1774" r="13.2"/>
<circle cx="620.7" cy="1544.3" r="13.2"/>
<circle cx="632.5" cy="1551.4" r="13.2"/>
<circle cx="644.3" cy="1518.1" r="13.2"/>
<circle cx="656.1" cy="1471.8" r="13.2"/>
<circle cx="667.8" cy="1692.1" r="13.2"/>
<circle cx="679.6" cy="1695.4" r="13.2"/>
<circle cx="691.4" cy="1703.9" r="13.2"/>
<circle cx="703.2" cy="1499.9" r="13.2"/>
<circle cx="714.9" cy="1523.8" r="13.2"/>
<circle cx="726.7" cy="1640.6" r="13.2"/>
<circle cx="738.5" cy="1705.3" r="13.2"/>
<circle cx="750.2" cy="1568.3" r="13.2"/>
<circle cx="762" cy="1640.6" r="13.2"/>
<circle cx="773.8" cy="1793.9" r="13.2"/>
<circle cx="785.6" cy="1708.1" r="13.2"/>
<circle cx="797.3" cy="1813.6" r="13.2"/>
<circle cx="809.1" cy="1763" r="13.2"/>
<circle cx="820.9" cy="1765.8" r="13.2"/>
<circle cx="832.6" cy="1884" r="13.2"/>
<circle cx="844.4" cy="1711.8" r="13.2"/>
<circle cx="856.2" cy="1850.2" r="13.2"/>
<circle cx="868" cy="1872.7" r="13.2"/>
<circle cx="879.7" cy="1850.2" r="13.2"/>
<circle cx="891.5" cy="1771.4" r="13.2"/>
<circle cx="903.3" cy="1751.7" r="13.2"/>
<circle cx="915" cy="1875.5" r="13.2"/>
<circle cx="926.8" cy="1618.1" r="13.2"/>
<circle cx="938.6" cy="1838.9" r="13.2"/>
<circle cx="950.4" cy="1878.3" r="13.2"/>
<circle cx="962.1" cy="1822.1" r="13.2"/>
<circle cx="973.9" cy="1701.1" r="13.2"/>
<circle cx="985.7" cy="1855.8" r="13.2"/>
<circle cx="997.5" cy="1743.3" r="13.2"/>
<circle cx="1009.2" cy="1743.3" r="13.2"/>
<circle cx="1021" cy="1748.9" r="13.2"/>
<circle cx="1032.8" cy="1751.7" r="13.2"/>
<circle cx="1044.5" cy="1793.9" r="13.2"/>
<circle cx="1056.3" cy="1751.7" r="13.2"/>
<circle cx="1068.1" cy="1751.7" r="13.2"/>
<circle cx="1079.9" cy="1568.8" r="13.2"/>
<circle cx="1091.6" cy="1554.8" r="13.2"/>
<circle cx="1103.4" cy="1699.7" r="13.2"/>
<circle cx="1115.2" cy="1867.1" r="13.2"/>
<circle cx="1126.9" cy="1765.8" r="13.2"/>
<circle cx="1138.7" cy="1816.4" r="13.2"/>
<circle cx="1150.5" cy="1502.7" r="13.2"/>
<circle cx="1162.3" cy="1585.7" r="13.2"/>
<circle cx="1174" cy="1649" r="13.2"/>
<circle cx="1185.8" cy="1568.8" r="13.2"/>
<circle cx="1197.6" cy="1563.2" r="13.2"/>
<circle cx="1209.3" cy="1822.1" r="13.2"/>
<circle cx="1221.1" cy="1799.5" r="13.2"/>
<circle cx="1232.9" cy="1743.3" r="13.2"/>
<circle cx="1244.7" cy="1681.4" r="13.2"/>
<circle cx="1256.4" cy="1779.9" r="13.2"/>
<circle cx="1268.2" cy="1667.3" r="13.2"/>
<circle cx="1280" cy="1698.3" r="13.2"/>
<circle cx="1291.8" cy="1701.1" r="13.2"/>
<circle cx="1303.5" cy="1723.6" r="13.2"/>
<circle cx="1315.3" cy="1765.8" r="13.2"/>
<circle cx="1327.1" cy="1760.2" r="13.2"/>
<circle cx="1338.8" cy="1681.4" r="13.2"/>
<circle cx="1350.6" cy="1751.7" r="13.2"/>
<circle cx="1362.4" cy="1763" r="13.2"/>
<circle cx="1374.2" cy="1861.5" r="13.2"/>
<circle cx="1385.9" cy="1861.5" r="13.2"/>
<circle cx="1397.7" cy="1808" r="13.2"/>
<circle cx="1409.5" cy="1850.2" r="13.2"/>
<circle cx="1421.2" cy="1861.5" r="13.2"/>
<circle cx="1433" cy="1793.9" r="13.2"/>
<circle cx="1444.8" cy="1816.4" r="13.2"/>
<circle cx="1468.3" cy="1737.6" r="13.2"/>
<circle cx="1480.1" cy="1737.6" r="13.2"/>
<circle cx="1491.9" cy="1810.8" r="13.2"/>
<circle cx="1503.6" cy="1727.8" r="13.2"/>
<circle cx="1527.2" cy="1774.2" r="13.2"/>
<circle cx="1539" cy="1765.8" r="13.2"/>
<circle cx="1550.7" cy="1876.9" r="13.2"/>
<circle cx="1562.5" cy="1808" r="13.2"/>
<circle cx="1574.3" cy="1723.6" r="13.2"/>
<circle cx="1586.1" cy="1703.9" r="13.2"/>
<circle cx="1597.8" cy="1765.8" r="13.2"/>
<circle cx="1609.6" cy="1819.2" r="13.2"/>
<circle cx="1621.4" cy="1571.1" r="13.2"/>
<circle cx="1680.2" cy="1668.7" r="13.2"/>
<circle cx="1692" cy="1680" r="13.2"/>
<circle cx="1715.5" cy="1765.8" r="13.2"/>
<circle cx="1727.3" cy="1709.5" r="13.2"/>
<circle cx="1739.1" cy="1841.8" r="13.2"/>
<circle cx="1750.9" cy="1710.9" r="13.2"/>
<circle cx="1774.4" cy="1664.5" r="13.2"/>
<circle cx="1786.2" cy="1808" r="13.2"/>
<circle cx="1797.9" cy="1805.2" r="13.2"/>
<circle cx="1809.7" cy="1805.2" r="13.2"/>
<circle cx="1845" cy="1793.9" r="13.2"/>
<circle cx="1856.8" cy="1741.9" r="13.2"/>
<circle cx="1868.6" cy="1830.5" r="13.2"/>
<circle cx="1880.4" cy="1822.1" r="13.2"/>
<circle cx="1903.9" cy="1519.6" r="13.2"/>
<circle cx="1915.7" cy="1640.6" r="13.2"/>
<circle cx="1927.4" cy="1822.1" r="13.2"/>
<circle cx="1939.2" cy="1785.5" r="13.2"/>
<circle cx="1962.8" cy="1691.2" r="13.2"/>
<circle cx="1974.5" cy="1671.5" r="13.2"/>
<circle cx="1986.3" cy="1777" r="13.2"/>
<circle cx="1998.1" cy="1785.5" r="13.2"/>
<circle cx="2045.2" cy="1757.1" r="13.2"/>
<circle cx="2056.9" cy="1872.3" r="13.2"/>
<circle cx="2092.2" cy="1639.3" r="13.2"/>
<circle cx="2104" cy="1788.4" r="13.2"/>
<circle cx="2115.8" cy="1786.6" r="13.2"/>
<circle cx="2151.1" cy="1685.3" r="13.2"/>
<circle cx="2162.9" cy="1792.1" r="13.2"/>
<circle cx="2174.7" cy="1806.8" r="13.2"/>
<circle cx="2186.4" cy="1689" r="13.2"/>
<circle cx="2210" cy="1771.8" r="13.2"/>
<circle cx="2221.7" cy="1738.7" r="13.2"/>
<circle cx="2233.5" cy="1827" r="13.2"/>
<circle cx="2245.3" cy="1582.3" r="13.2"/>
<circle cx="2280.6" cy="1284.2" r="13.2"/>
<circle cx="2292.4" cy="1284.2" r="13.2"/>
</g>
<g stroke="#000000" stroke-width="6.5" fill="none" stroke-linejoin="round">
<polyline points="220.5,1610.5 232.3,1510.5 267.6,1578.1 279.4,1293 291.1,1662.1 302.9,1769.3 314.7,1624.8 326.4,1721.7 338.2,1413.6 350,1801.4 361.8,1769.3 373.5,1841.9 397.1,1861 408.9,1836 420.6,1694.3 432.4,1665.2 444.2,1827.6 455.9,1836 467.7,1770 479.5,1826.4 491.3,1753.8 503,1680.5 514.8,1656.2 526.6,1732.4"/>
<polyline points="585.4,1827.1 597.2,1651.4 609,1777.1 620.7,1506.2 632.5,1562.1 644.3,1517.6 656.1,1594.1 667.8,1647.6 679.6,1699.7 691.4,1716.5 703.2,1453.5 714.9,1444.5 726.7,1617.2 738.5,1802.4 750.2,1657.5 762,1716.5 773.8,1768.6 785.6,1760.2 797.3,1785.5 809.1,1813.6 820.9,1764.4 832.6,1836.1 844.4,1639.7 856.2,1838.9 868,1864.3 879.7,1587.4 891.5,1826.3 903.3,1723.6 915,1802.4 926.8,1723.6 938.6,1819.2 950.4,1881.1 962.1,1796.7 973.9,1650.4 985.7,1642 997.5,1830.5 1009.2,1816.4 1021,1827.7 1032.8,1793.9 1044.5,1786.9 1056.3,1703.3 1068.1,1616.1 1079.9,1599.8 1091.6,1561.8 1103.4,1618.1 1115.2,1808 1126.9,1720.2 1138.7,1822.1 1150.5,1741.9 1162.3,1622.3 1174,1602.6 1185.8,1506.9 1197.6,1594.1 1209.3,1821.5 1221.1,1727.8 1232.9,1708.1 1244.7,1781.3 1256.4,1763 1268.2,1813.6 1280,1747.5 1291.8,1747.5 1303.5,1854.4 1315.3,1691.2 1327.1,1779.9 1338.8,1813.6 1350.6,1739.1 1362.4,1819.2 1374.2,1851.6 1385.9,1732 1397.7,1793.9 1409.5,1844.6 1421.2,1872.7 1433,1841.2 1444.8,1767.2 1468.3,1713.7 1480.1,1726.4 1491.9,1732 1503.6,1853 1527.2,1709.5 1539,1815 1550.7,1618.9 1562.5,1831.9 1574.3,1716.5 1586.1,1767.2 1597.8,1855.8 1609.6,1768.6 1621.4,1752.6"/>
<polyline points="1680.2,1760.2 1692,1741.9 1715.5,1720.2 1727.3,1631.3 1739.1,1812.2 1750.9,1791.1 1774.4,1743.3 1786.2,1895.2 1797.9,1848.8 1809.7,1691.2 1845,1799.5 1856.8,1758.8 1868.6,1630.2 1880.4,1689.8 1903.9,1581.5 1915.7,1675.7 1927.4,1844 1939.2,1842.3 1962.8,1788.3 1974.5,1748.9 1986.3,1823.5 1998.1,1788.3"/>
<polyline points="2045.2,1720.3 2056.9,1839.9 2092.2,1819.7 2104,1837 2115.8,1719.2 2151.1,1735 2162.9,1743.5 2174.7,1606.2 2186.4,1666.2 2210,1842.9 2221.7,1791 2233.5,1860.9 2245.3,1592.6 2280.6,1420.3 2292.4,1517.9"/>
<circle cx="220.5" cy="1610.5" r="13.2"/>
<circle cx="232.3" cy="1510.5" r="13.2"/>
<circle cx="267.6" cy="1578.1" r="13.2"/>
<circle cx="279.4" cy="1293" r="13.2"/>
<circle cx="291.1" cy="1662.1" r="13.2"/>
<circle cx="302.9" cy="1769.3" r="13.2"/>
<circle cx="314.7" cy="1624.8" r="13.2"/>
<circle cx="326.4" cy="1721.7" r="13.2"/>
<circle cx="338.2" cy="1413.6" r="13.2"/>
<circle cx="350" cy="1801.4" r="13.2"/>
<circle cx="361.8" cy="1769.3" r="13.2"/>
<circle cx="373.5" cy="1841.9" r="13.2"/>
<circle cx="397.1" cy="1861" r="13.2"/>
<circle cx="408.9" cy="1836" r="13.2"/>
<circle cx="420.6" cy="1694.3" r="13.2"/>
<circle cx="432.4" cy="1665.2" r="13.2"/>
<circle cx="444.2" cy="1827.6" r="13.2"/>
<circle cx="455.9" cy="1836" r="13.2"/>
<circle cx="467.7" cy="1770" r="13.2"/>
<circle cx="479.5" cy="1826.4" r="13.2"/>
<circle cx="491.3" cy="1753.8" r="13.2"/>
<circle cx="503" cy="1680.5" r="13.2"/>
<circle cx="514.8" cy="1656.2" r="13.2"/>
<circle cx="526.6" cy="1732.4" r="13.2"/>
<circle cx="585.4" cy="1827.1" r="13.2"/>
<circle cx="597.2" cy="1651.4" r="13.2"/>
<circle cx="609" cy="1777.1" r="13.2"/>
<circle cx="620.7" cy="1506.2" r="13.2"/>
<circle cx="632.5" cy="1562.1" r="13.2"/>
<circle cx="644.3" cy="1517.6" r="13.2"/>
<circle cx="656.1" cy="1594.1" r="13.2"/>
<circle cx="667.8" cy="1647.6" r="13.2"/>
<circle cx="679.6" cy="1699.7" r="13.2"/>
<circle cx="691.4" cy="1716.5" r="13.2"/>
<circle cx="703.2" cy="1453.5" r="13.2"/>
<circle cx="714.9" cy="1444.5" r="13.2"/>
<circle cx="726.7" cy="1617.2" r="13.2"/>
<circle cx="738.5" cy="1802.4" r="13.2"/>
<circle cx="750.2" cy="1657.5" r="13.2"/>
<circle cx="762" cy="1716.5" r="13.2"/>
<circle cx="773.8" cy="1768.6" r="13.2"/>
<circle cx="785.6" cy="1760.2" r="13.2"/>
<circle cx="797.3" cy="1785.5" r="13.2"/>
<circle cx="809.1" cy="1813.6" r="13.2"/>
<circle cx="820.9" cy="1764.4" r="13.2"/>
<circle cx="832.6" cy="1836.1" r="13.2"/>
<circle cx="844.4" cy="1639.7" r="13.2"/>
<circle cx="856.2" cy="1838.9" r="13.2"/>
<circle cx="868" cy="1864.3" r="13.2"/>
<circle cx="879.7" cy="1587.4" r="13.2"/>
<circle cx="891.5" cy="1826.3" r="13.2"/>
<circle cx="903.3" cy="1723.6" r="13.2"/>
<circle cx="915" cy="1802.4" r="13.2"/>
<circle cx="926.8" cy="1723.6" r="13.2"/>
<circle cx="938.6" cy="1819.2" r="13.2"/>
<circle cx="950.4" cy="1881.1" r="13.2"/>
<circle cx="962.1" cy="1796.7" r="13.2"/>
<circle cx="973.9" cy="1650.4" r="13.2"/>
<circle cx="985.7" cy="1642" r="13.2"/>
<circle cx="997.5" cy="1830.5" r="13.2"/>
<circle cx="1009.2" cy="1816.4" r="13.2"/>
<circle cx="1021" cy="1827.7" r="13.2"/>
<circle cx="1032.8" cy="1793.9" r="13.2"/>
<circle cx="1044.5" cy="1786.9" r="13.2"/>
<circle cx="1056.3" cy="1703.3" r="13.2"/>
<circle cx="1068.1" cy="1616.1" r="13.2"/>
<circle cx="1079.9" cy="1599.8" r="13.2"/>
<circle cx="1091.6" cy="1561.8" r="13.2"/>
<circle cx="1103.4" cy="1618.1" r="13.2"/>
<circle cx="1115.2" cy="1808" r="13.2"/>
<circle cx="1126.9" cy="1720.2" r="13.2"/>
<circle cx="1138.7" cy="1822.1" r="13.2"/>
<circle cx="1150.5" cy="1741.9" r="13.2"/>
<circle cx="1162.3" cy="1622.3" r="13.2"/>
<circle cx="1174" cy="1602.6" r="13.2"/>
<circle cx="1185.8" cy="1506.9" r="13.2"/>
<circle cx="1197.6" cy="1594.1" r="13.2"/>
<circle cx="1209.3" cy="1821.5" r="13.2"/>
<circle cx="1221.1" cy="1727.8" r="13.2"/>
<circle cx="1232.9" cy="1708.1" r="13.2"/>
<circle cx="1244.7" cy="1781.3" r="13.2"/>
<circle cx="1256.4" cy="1763" r="13.2"/>
<circle cx="1268.2" cy="1813.6" r="13.2"/>
<circle cx="1280" cy="1747.5" r="13.2"/>
<circle cx="1291.8" cy="1747.5" r="13.2"/>
<circle cx="1303.5" cy="1854.4" r="13.2"/>
<circle cx="1315.3" cy="1691.2" r="13.2"/>
<circle cx="1327.1" cy="1779.9" r="13.2"/>
<circle cx="1338.8" cy="1813.6" r="13.2"/>
<circle cx="1350.6" cy="1739.1" r="13.2"/>
<circle cx="1362.4" cy="1819.2" r="13.2"/>
<circle cx="1374.2" cy="1851.6" r="13.2"/>
<circle cx="1385.9" cy="1732" r="13.2"/>
<circle cx="1397.7" cy="1793.9" r="13.2"/>
<circle cx="1409.5" cy="1844.6" r="13.2"/>
<circle cx="1421.2" cy="1872.7" r="13.2"/>
<circle cx="1433" cy="1841.2" r="13.2"/>
<circle cx="1444.8" cy="1767.2" r="13.2"/>
<circle cx="1468.3" cy="1713.7" r="13.2"/>
<circle cx="1480.1" cy="1726.4" r="13.2"/>
<circle cx="1491.9" cy="1732" r="13.2"/>
<circle cx="1503.6" cy="1853" r="13.2"/>
<circle cx="1527.2" cy="1709.5" r="13.2"/>
<circle cx="1539" cy="1815" r="13.2"/>
<circle cx="1550.7" cy="1618.9" r="13.2"/>
<circle cx="1562.5" cy="1831.9" r="13.2"/>
<circle cx="1574.3" cy="1716.5" r="13.2"/>
<circle cx="1586.1" cy="1767.2" r="13.2"/>
<circle cx="1597.8" cy="1855.8" r="13.2"/>
<circle cx="1609.6" cy="1768.6" r="13.2"/>
<circle cx="1621.4" cy="1752.6" r="13.2"/>
<circle cx="1680.2" cy="1760.2" r="13.2"/>
<circle cx="1692" cy="1741.9" r="13.2"/>
<circle cx="1715.5" cy="1720.2" r="13.2"/>
<circle cx="1727.3" cy="1631.3" r="13.2"/>
<circle cx="1739.1" cy="1812.2" r="13.2"/>
<circle cx="1750.9" cy="1791.1" r="13.2"/>
<circle cx="1774.4" cy="1743.3" r="13.2"/>
<circle cx="1786.2" cy="1895.2" r="13.2"/>
<circle cx="1797.9" cy="1848.8" r="13.2"/>
<circle cx="1809.7" cy="1691.2" r="13.2"/>
<circle cx="1845" cy="1799.5" r="13.2"/>
<circle cx="1856.8" cy="1758.8" r="13.2"/>
<circle cx="1868.6" cy="1630.2" r="13.2"/>
<circle cx="1880.4" cy="1689.8" r="13.2"/>
<circle cx="1903.9" cy="1581.5" r="13.2"/>
<circle cx="1915.7" cy="1675.7" r="13.2"/>
<circle cx="1927.4" cy="1844" r="13.2"/>
<circle cx="1939.2" cy="1842.3" r="13.2"/>
<circle cx="1962.8" cy="1788.3" r="13.2"/>
<circle cx="1974.5" cy="1748.9" r="13.2"/>
<circle cx="1986.3" cy="1823.5" r="13.2"/>
<circle cx="1998.1" cy="1788.3" r="13.2"/>
<circle cx="2045.2" cy="1720.3" r="13.2"/>
<circle cx="2056.9" cy="1839.9" r="13.2"/>
<circle cx="2092.2" cy="1819.7" r="13.2"/>
<circle cx="2104" cy="1837" r="13.2"/>
<circle cx="2115.8" cy="1719.2" r="13.2"/>
<circle cx="2151.1" cy="1735" r="13.2"/>
<circle cx="2162.9" cy="1743.5" r="13.2"/>
<circle cx="2174.7" cy="1606.2" r="13.2"/>
<circle cx="2186.4" cy="1666.2" r="13.2"/>
<circle cx="2210" cy="1842.9" r="13.2"/>
<circle cx="2221.7" cy="1791" r="13.2"/>
<circle cx="2233.5" cy="1860.9" r="13.2"/>
<circle cx="2245.3" cy="1592.6" r="13.2"/>
<circle cx="2280.6" cy="1420.3" r="13.2"/>
<circle cx="2292.4" cy="1517.9" r="13.2"/>
</g>
<g stroke="#ff0000" stroke-width="7" fill="none"><line x1="1203" y1="194.8" x2="1337" y2="194.8"/><circle cx="1270" cy="194.8" r="13.2"/></g>
<text class="lg" x="1346" y="217.6">CSR RL06</text>
<g stroke="#00ffff" stroke-width="7" fill="none"><line x1="1203" y1="268.6" x2="1337" y2="268.6"/><circle cx="1270" cy="268.6" r="13.2"/></g>
<text class="lg" x="1346" y="291.3">GFZ RL06</text>
<g stroke="#ffff00" stroke-width="7" fill="none"><line x1="1651" y1="194.8" x2="1785" y2="194.8"/><circle cx="1718" cy="194.8" r="13.2"/></g>
<text class="lg" x="1795" y="217.6">JPL RL06</text>
<g stroke="#000000" stroke-width="7" fill="none"><line x1="1651" y1="268.6" x2="1785" y2="268.6"/><circle cx="1718" cy="268.6" r="13.2"/></g>
<text class="lg" x="1795" y="291.3">Tongji-Acc RL06</text>
<text class="yl" transform="translate(103,1033.7) rotate(-90)" text-anchor="middle">RMS of mass change residuals/m</text>
<text class="xl" x="1256.8" y="2100.4" text-anchor="middle">year</text>
</svg>
</body>
</html>
